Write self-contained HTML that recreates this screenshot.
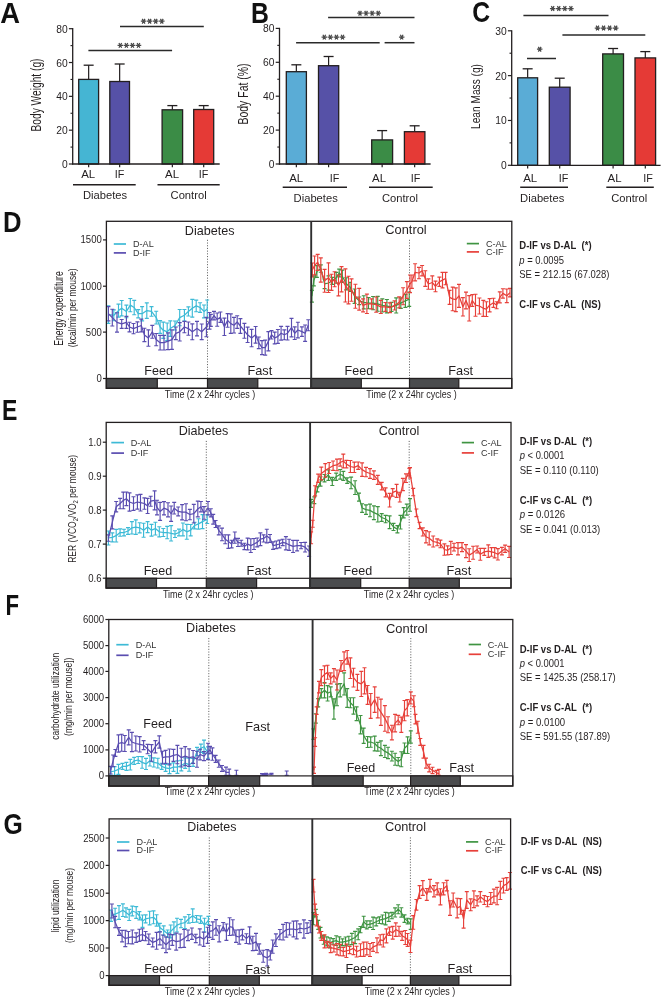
<!DOCTYPE html>
<html><head><meta charset="utf-8"><style>
html,body{margin:0;padding:0;background:#fff;}
svg{display:block;will-change:transform;}
text{font-family:"Liberation Sans", sans-serif;}
</style></head><body>
<svg width="663" height="999" viewBox="0 0 663 999">
<rect width="663" height="999" fill="#fff"/>
<text transform="translate(0.3,22.700000000000003) scale(0.95,1)" font-size="28.8" font-weight="bold" fill="#111">A</text>
<text transform="translate(251.0,23.1) scale(0.86,1)" font-size="28.8" font-weight="bold" fill="#111">B</text>
<text transform="translate(472.2,22.200000000000003) scale(0.86,1)" font-size="28.8" font-weight="bold" fill="#111">C</text>
<text transform="translate(3.1,231.6) scale(0.89,1)" font-size="28.8" font-weight="bold" fill="#111">D</text>
<text transform="translate(2.0,420.3) scale(0.8,1)" font-size="28.8" font-weight="bold" fill="#111">E</text>
<text transform="translate(5.6,614.6) scale(0.77,1)" font-size="28.8" font-weight="bold" fill="#111">F</text>
<text transform="translate(3.4,833.6) scale(0.86,1)" font-size="28.8" font-weight="bold" fill="#111">G</text>
<line x1="88.65" y1="65.20" x2="88.65" y2="79.40" stroke="#231f20" stroke-width="1.2" />
<line x1="83.65" y1="65.20" x2="93.65" y2="65.20" stroke="#231f20" stroke-width="1.3" />
<rect x="78.70" y="79.40" width="19.90" height="84.60" fill="#45b5d3" stroke="#231f20" stroke-width="1.3"/>
<line x1="88.65" y1="164.00" x2="88.65" y2="167.20" stroke="#231f20" stroke-width="1.2" />
<text x="88.2" y="178.3" font-size="10.9" fill="#231f20" text-anchor="middle" textLength="14.0" lengthAdjust="spacingAndGlyphs">AL</text>
<line x1="119.65" y1="64.00" x2="119.65" y2="81.50" stroke="#231f20" stroke-width="1.2" />
<line x1="114.65" y1="64.00" x2="124.65" y2="64.00" stroke="#231f20" stroke-width="1.3" />
<rect x="109.80" y="81.50" width="19.70" height="82.50" fill="#5651a7" stroke="#231f20" stroke-width="1.3"/>
<line x1="119.65" y1="164.00" x2="119.65" y2="167.20" stroke="#231f20" stroke-width="1.2" />
<text x="119.6" y="178.3" font-size="10.9" fill="#231f20" text-anchor="middle" textLength="9.6" lengthAdjust="spacingAndGlyphs">IF</text>
<line x1="172.35" y1="105.60" x2="172.35" y2="109.80" stroke="#231f20" stroke-width="1.2" />
<line x1="167.35" y1="105.60" x2="177.35" y2="105.60" stroke="#231f20" stroke-width="1.3" />
<rect x="162.10" y="109.80" width="20.50" height="54.20" fill="#3b8c46" stroke="#231f20" stroke-width="1.3"/>
<line x1="172.35" y1="164.00" x2="172.35" y2="167.20" stroke="#231f20" stroke-width="1.2" />
<text x="172.1" y="178.3" font-size="10.9" fill="#231f20" text-anchor="middle" textLength="14.0" lengthAdjust="spacingAndGlyphs">AL</text>
<line x1="203.70" y1="105.60" x2="203.70" y2="109.50" stroke="#231f20" stroke-width="1.2" />
<line x1="198.70" y1="105.60" x2="208.70" y2="105.60" stroke="#231f20" stroke-width="1.3" />
<rect x="193.70" y="109.50" width="20.00" height="54.50" fill="#e53a36" stroke="#231f20" stroke-width="1.3"/>
<line x1="203.70" y1="164.00" x2="203.70" y2="167.20" stroke="#231f20" stroke-width="1.2" />
<text x="203.5" y="178.3" font-size="10.9" fill="#231f20" text-anchor="middle" textLength="9.6" lengthAdjust="spacingAndGlyphs">IF</text>
<line x1="72.70" y1="28.10" x2="72.70" y2="164.60" stroke="#231f20" stroke-width="1.3" />
<line x1="72.10" y1="164.00" x2="219.70" y2="164.00" stroke="#231f20" stroke-width="1.3" />
<line x1="68.90" y1="164.00" x2="72.70" y2="164.00" stroke="#231f20" stroke-width="1.2" />
<text transform="translate(67.70,168.00) scale(0.92,1)" font-size="11.2" fill="#231f20" text-anchor="end">0</text>
<line x1="68.90" y1="130.18" x2="72.70" y2="130.18" stroke="#231f20" stroke-width="1.2" />
<text transform="translate(67.70,134.18) scale(0.92,1)" font-size="11.2" fill="#231f20" text-anchor="end">20</text>
<line x1="68.90" y1="96.35" x2="72.70" y2="96.35" stroke="#231f20" stroke-width="1.2" />
<text transform="translate(67.70,100.35) scale(0.92,1)" font-size="11.2" fill="#231f20" text-anchor="end">40</text>
<line x1="68.90" y1="62.52" x2="72.70" y2="62.52" stroke="#231f20" stroke-width="1.2" />
<text transform="translate(67.70,66.52) scale(0.92,1)" font-size="11.2" fill="#231f20" text-anchor="end">60</text>
<line x1="68.90" y1="28.70" x2="72.70" y2="28.70" stroke="#231f20" stroke-width="1.2" />
<text transform="translate(67.70,32.70) scale(0.92,1)" font-size="11.2" fill="#231f20" text-anchor="end">80</text>
<line x1="70.50" y1="147.09" x2="72.70" y2="147.09" stroke="#231f20" stroke-width="1.1" />
<line x1="70.50" y1="113.26" x2="72.70" y2="113.26" stroke="#231f20" stroke-width="1.1" />
<line x1="70.50" y1="79.44" x2="72.70" y2="79.44" stroke="#231f20" stroke-width="1.1" />
<line x1="70.50" y1="45.61" x2="72.70" y2="45.61" stroke="#231f20" stroke-width="1.1" />
<text transform="translate(41.1,95.0) rotate(-90)" font-size="14" fill="#231f20" text-anchor="middle" textLength="73" lengthAdjust="spacingAndGlyphs">Body Weight (g)</text>
<line x1="73.00" y1="184.80" x2="135.70" y2="184.80" stroke="#231f20" stroke-width="1.4" />
<line x1="157.50" y1="184.80" x2="219.70" y2="184.80" stroke="#231f20" stroke-width="1.4" />
<text x="105.0" y="198.7" font-size="11.2" fill="#231f20" text-anchor="middle">Diabetes</text>
<text x="188.6" y="198.7" font-size="11.2" fill="#231f20" text-anchor="middle">Control</text>
<line x1="88.40" y1="50.40" x2="172.10" y2="50.40" stroke="#2a2a2a" stroke-width="1.5" />
<path d="M117.55,45.40L123.05,45.40M118.92,43.02L121.67,47.78M121.67,43.02L118.92,47.78M123.62,45.40L129.12,45.40M124.99,43.02L127.74,47.78M127.74,43.02L124.99,47.78M129.69,45.40L135.19,45.40M131.06,43.02L133.81,47.78M133.81,43.02L131.06,47.78M135.75,45.40L141.25,45.40M137.13,43.02L139.88,47.78M139.88,43.02L137.13,47.78" stroke="#4a4a4a" stroke-width="1.25" fill="none"/>
<line x1="120.00" y1="26.40" x2="203.80" y2="26.40" stroke="#2a2a2a" stroke-width="1.5" />
<path d="M140.84,21.20L146.34,21.20M142.22,18.82L144.97,23.58M144.97,18.82L142.22,23.58M146.91,21.20L152.41,21.20M148.29,18.82L151.04,23.58M151.04,18.82L148.29,23.58M152.99,21.20L158.49,21.20M154.36,18.82L157.11,23.58M157.11,18.82L154.36,23.58M159.06,21.20L164.56,21.20M160.43,18.82L163.18,23.58M163.18,18.82L160.43,23.58" stroke="#4a4a4a" stroke-width="1.25" fill="none"/>
<line x1="296.35" y1="64.80" x2="296.35" y2="71.70" stroke="#231f20" stroke-width="1.2" />
<line x1="291.35" y1="64.80" x2="301.35" y2="64.80" stroke="#231f20" stroke-width="1.3" />
<rect x="286.30" y="71.70" width="20.10" height="92.30" fill="#5aacd6" stroke="#231f20" stroke-width="1.3"/>
<line x1="296.35" y1="164.00" x2="296.35" y2="167.20" stroke="#231f20" stroke-width="1.2" />
<text x="296.2" y="181.8" font-size="10.9" fill="#231f20" text-anchor="middle" textLength="14.0" lengthAdjust="spacingAndGlyphs">AL</text>
<line x1="328.60" y1="56.50" x2="328.60" y2="65.70" stroke="#231f20" stroke-width="1.2" />
<line x1="323.60" y1="56.50" x2="333.60" y2="56.50" stroke="#231f20" stroke-width="1.3" />
<rect x="318.50" y="65.70" width="20.20" height="98.30" fill="#5651a7" stroke="#231f20" stroke-width="1.3"/>
<line x1="328.60" y1="164.00" x2="328.60" y2="167.20" stroke="#231f20" stroke-width="1.2" />
<text x="334.5" y="181.8" font-size="10.9" fill="#231f20" text-anchor="middle" textLength="9.6" lengthAdjust="spacingAndGlyphs">IF</text>
<line x1="382.15" y1="130.60" x2="382.15" y2="139.90" stroke="#231f20" stroke-width="1.2" />
<line x1="377.15" y1="130.60" x2="387.15" y2="130.60" stroke="#231f20" stroke-width="1.3" />
<rect x="371.70" y="139.90" width="20.90" height="24.10" fill="#3b8c46" stroke="#231f20" stroke-width="1.3"/>
<line x1="382.15" y1="164.00" x2="382.15" y2="167.20" stroke="#231f20" stroke-width="1.2" />
<text x="379.0" y="181.8" font-size="10.9" fill="#231f20" text-anchor="middle" textLength="14.0" lengthAdjust="spacingAndGlyphs">AL</text>
<line x1="414.65" y1="125.80" x2="414.65" y2="131.70" stroke="#231f20" stroke-width="1.2" />
<line x1="409.65" y1="125.80" x2="419.65" y2="125.80" stroke="#231f20" stroke-width="1.3" />
<rect x="404.40" y="131.70" width="20.50" height="32.30" fill="#e53a36" stroke="#231f20" stroke-width="1.3"/>
<line x1="414.65" y1="164.00" x2="414.65" y2="167.20" stroke="#231f20" stroke-width="1.2" />
<text x="415.6" y="181.8" font-size="10.9" fill="#231f20" text-anchor="middle" textLength="9.6" lengthAdjust="spacingAndGlyphs">IF</text>
<line x1="279.50" y1="27.80" x2="279.50" y2="164.60" stroke="#231f20" stroke-width="1.3" />
<line x1="278.90" y1="164.00" x2="430.60" y2="164.00" stroke="#231f20" stroke-width="1.3" />
<line x1="275.70" y1="164.00" x2="279.50" y2="164.00" stroke="#231f20" stroke-width="1.2" />
<text transform="translate(274.50,168.00) scale(0.92,1)" font-size="11.2" fill="#231f20" text-anchor="end">0</text>
<line x1="275.70" y1="130.10" x2="279.50" y2="130.10" stroke="#231f20" stroke-width="1.2" />
<text transform="translate(274.50,134.10) scale(0.92,1)" font-size="11.2" fill="#231f20" text-anchor="end">20</text>
<line x1="275.70" y1="96.20" x2="279.50" y2="96.20" stroke="#231f20" stroke-width="1.2" />
<text transform="translate(274.50,100.20) scale(0.92,1)" font-size="11.2" fill="#231f20" text-anchor="end">40</text>
<line x1="275.70" y1="62.30" x2="279.50" y2="62.30" stroke="#231f20" stroke-width="1.2" />
<text transform="translate(274.50,66.30) scale(0.92,1)" font-size="11.2" fill="#231f20" text-anchor="end">60</text>
<line x1="275.70" y1="28.40" x2="279.50" y2="28.40" stroke="#231f20" stroke-width="1.2" />
<text transform="translate(274.50,32.40) scale(0.92,1)" font-size="11.2" fill="#231f20" text-anchor="end">80</text>
<line x1="277.30" y1="147.05" x2="279.50" y2="147.05" stroke="#231f20" stroke-width="1.1" />
<line x1="277.30" y1="113.15" x2="279.50" y2="113.15" stroke="#231f20" stroke-width="1.1" />
<line x1="277.30" y1="79.25" x2="279.50" y2="79.25" stroke="#231f20" stroke-width="1.1" />
<line x1="277.30" y1="45.35" x2="279.50" y2="45.35" stroke="#231f20" stroke-width="1.1" />
<text transform="translate(248.0,94.0) rotate(-90)" font-size="14" fill="#231f20" text-anchor="middle" textLength="61.2" lengthAdjust="spacingAndGlyphs">Body Fat (%)</text>
<line x1="282.70" y1="187.30" x2="347.00" y2="187.30" stroke="#231f20" stroke-width="1.4" />
<line x1="369.00" y1="187.30" x2="432.70" y2="187.30" stroke="#231f20" stroke-width="1.4" />
<text x="315.7" y="201.5" font-size="11.2" fill="#231f20" text-anchor="middle">Diabetes</text>
<text x="400.0" y="201.5" font-size="11.2" fill="#231f20" text-anchor="middle">Control</text>
<line x1="296.10" y1="42.70" x2="379.70" y2="42.70" stroke="#2a2a2a" stroke-width="1.5" />
<path d="M321.54,37.10L327.04,37.10M322.92,34.72L325.67,39.48M325.67,34.72L322.92,39.48M327.61,37.10L333.11,37.10M328.99,34.72L331.74,39.48M331.74,34.72L328.99,39.48M333.68,37.10L339.18,37.10M335.06,34.72L337.81,39.48M337.81,34.72L335.06,39.48M339.75,37.10L345.25,37.10M341.13,34.72L343.88,39.48M343.88,34.72L341.13,39.48" stroke="#4a4a4a" stroke-width="1.25" fill="none"/>
<line x1="384.60" y1="42.70" x2="414.50" y2="42.70" stroke="#2a2a2a" stroke-width="1.5" />
<path d="M398.95,37.10L404.45,37.10M400.32,34.72L403.07,39.48M403.07,34.72L400.32,39.48" stroke="#4a4a4a" stroke-width="1.25" fill="none"/>
<line x1="328.10" y1="17.60" x2="414.50" y2="17.60" stroke="#2a2a2a" stroke-width="1.5" />
<path d="M357.25,13.20L362.75,13.20M358.62,10.82L361.37,15.58M361.37,10.82L358.62,15.58M363.31,13.20L368.81,13.20M364.69,10.82L367.44,15.58M367.44,10.82L364.69,15.58M369.38,13.20L374.88,13.20M370.76,10.82L373.51,15.58M373.51,10.82L370.76,15.58M375.45,13.20L380.95,13.20M376.83,10.82L379.58,15.58M379.58,10.82L376.83,15.58" stroke="#4a4a4a" stroke-width="1.25" fill="none"/>
<line x1="527.65" y1="68.80" x2="527.65" y2="77.80" stroke="#231f20" stroke-width="1.2" />
<line x1="522.65" y1="68.80" x2="532.65" y2="68.80" stroke="#231f20" stroke-width="1.3" />
<rect x="517.70" y="77.80" width="19.90" height="87.50" fill="#5aacd6" stroke="#231f20" stroke-width="1.3"/>
<line x1="527.65" y1="165.30" x2="527.65" y2="168.50" stroke="#231f20" stroke-width="1.2" />
<text x="530.2" y="182.0" font-size="10.9" fill="#231f20" text-anchor="middle" textLength="14.0" lengthAdjust="spacingAndGlyphs">AL</text>
<line x1="559.70" y1="78.20" x2="559.70" y2="87.20" stroke="#231f20" stroke-width="1.2" />
<line x1="554.70" y1="78.20" x2="564.70" y2="78.20" stroke="#231f20" stroke-width="1.3" />
<rect x="549.30" y="87.20" width="20.80" height="78.10" fill="#5651a7" stroke="#231f20" stroke-width="1.3"/>
<line x1="559.70" y1="165.30" x2="559.70" y2="168.50" stroke="#231f20" stroke-width="1.2" />
<text x="563.6" y="182.0" font-size="10.9" fill="#231f20" text-anchor="middle" textLength="9.6" lengthAdjust="spacingAndGlyphs">IF</text>
<line x1="613.10" y1="48.50" x2="613.10" y2="53.90" stroke="#231f20" stroke-width="1.2" />
<line x1="608.10" y1="48.50" x2="618.10" y2="48.50" stroke="#231f20" stroke-width="1.3" />
<rect x="602.70" y="53.90" width="20.80" height="111.40" fill="#3b8c46" stroke="#231f20" stroke-width="1.3"/>
<line x1="613.10" y1="165.30" x2="613.10" y2="168.50" stroke="#231f20" stroke-width="1.2" />
<text x="614.5" y="182.0" font-size="10.9" fill="#231f20" text-anchor="middle" textLength="14.0" lengthAdjust="spacingAndGlyphs">AL</text>
<line x1="645.30" y1="51.60" x2="645.30" y2="57.90" stroke="#231f20" stroke-width="1.2" />
<line x1="640.30" y1="51.60" x2="650.30" y2="51.60" stroke="#231f20" stroke-width="1.3" />
<rect x="635.00" y="57.90" width="20.60" height="107.40" fill="#e53a36" stroke="#231f20" stroke-width="1.3"/>
<line x1="645.30" y1="165.30" x2="645.30" y2="168.50" stroke="#231f20" stroke-width="1.2" />
<text x="648.0" y="182.0" font-size="10.9" fill="#231f20" text-anchor="middle" textLength="9.6" lengthAdjust="spacingAndGlyphs">IF</text>
<line x1="511.70" y1="30.20" x2="511.70" y2="165.90" stroke="#231f20" stroke-width="1.3" />
<line x1="511.10" y1="165.30" x2="660.60" y2="165.30" stroke="#231f20" stroke-width="1.3" />
<line x1="507.90" y1="165.30" x2="511.70" y2="165.30" stroke="#231f20" stroke-width="1.2" />
<text transform="translate(506.70,169.30) scale(0.92,1)" font-size="11.2" fill="#231f20" text-anchor="end">0</text>
<line x1="507.90" y1="120.47" x2="511.70" y2="120.47" stroke="#231f20" stroke-width="1.2" />
<text transform="translate(506.70,124.47) scale(0.92,1)" font-size="11.2" fill="#231f20" text-anchor="end">10</text>
<line x1="507.90" y1="75.63" x2="511.70" y2="75.63" stroke="#231f20" stroke-width="1.2" />
<text transform="translate(506.70,79.63) scale(0.92,1)" font-size="11.2" fill="#231f20" text-anchor="end">20</text>
<line x1="507.90" y1="30.80" x2="511.70" y2="30.80" stroke="#231f20" stroke-width="1.2" />
<text transform="translate(506.70,34.80) scale(0.92,1)" font-size="11.2" fill="#231f20" text-anchor="end">30</text>
<line x1="509.50" y1="142.88" x2="511.70" y2="142.88" stroke="#231f20" stroke-width="1.1" />
<line x1="509.50" y1="98.05" x2="511.70" y2="98.05" stroke="#231f20" stroke-width="1.1" />
<line x1="509.50" y1="53.22" x2="511.70" y2="53.22" stroke="#231f20" stroke-width="1.1" />
<text transform="translate(479.6,96.5) rotate(-90)" font-size="12.8" fill="#231f20" text-anchor="middle" textLength="64.9" lengthAdjust="spacingAndGlyphs">Lean Mass (g)</text>
<line x1="520.20" y1="187.30" x2="568.00" y2="187.30" stroke="#231f20" stroke-width="1.4" />
<line x1="606.30" y1="187.30" x2="653.80" y2="187.30" stroke="#231f20" stroke-width="1.4" />
<text x="542.2" y="202.3" font-size="11.2" fill="#231f20" text-anchor="middle">Diabetes</text>
<text x="629.2" y="202.3" font-size="11.2" fill="#231f20" text-anchor="middle">Control</text>
<line x1="527.00" y1="58.50" x2="556.00" y2="58.50" stroke="#2a2a2a" stroke-width="1.5" />
<path d="M536.95,49.20L542.45,49.20M538.33,46.82L541.08,51.58M541.08,46.82L538.33,51.58" stroke="#4a4a4a" stroke-width="1.25" fill="none"/>
<line x1="523.40" y1="15.40" x2="608.50" y2="15.40" stroke="#2a2a2a" stroke-width="1.5" />
<path d="M549.94,8.50L555.44,8.50M551.32,6.12L554.07,10.88M554.07,6.12L551.32,10.88M556.01,8.50L561.51,8.50M557.39,6.12L560.14,10.88M560.14,6.12L557.39,10.88M562.08,8.50L567.58,8.50M563.46,6.12L566.21,10.88M566.21,6.12L563.46,10.88M568.15,8.50L573.65,8.50M569.53,6.12L572.28,10.88M572.28,6.12L569.53,10.88" stroke="#4a4a4a" stroke-width="1.25" fill="none"/>
<line x1="562.40" y1="34.90" x2="645.30" y2="34.90" stroke="#2a2a2a" stroke-width="1.5" />
<path d="M594.75,28.00L600.25,28.00M596.12,25.62L598.87,30.38M598.87,25.62L596.12,30.38M600.82,28.00L606.32,28.00M602.19,25.62L604.94,30.38M604.94,25.62L602.19,30.38M606.88,28.00L612.38,28.00M608.26,25.62L611.01,30.38M611.01,25.62L608.26,30.38M612.96,28.00L618.46,28.00M614.33,25.62L617.08,30.38M617.08,25.62L614.33,30.38" stroke="#4a4a4a" stroke-width="1.25" fill="none"/>
<line x1="207.5" y1="239.8" x2="207.5" y2="378.5" stroke="#555" stroke-width="0.9" stroke-dasharray="1.1,1.6"/>
<line x1="409.5" y1="239.8" x2="409.5" y2="378.5" stroke="#555" stroke-width="0.9" stroke-dasharray="1.1,1.6"/>
<path d="M108.4,314.5 L113.8,315.3 L118.5,310.6 L121.7,308.2 L126.4,311.4 L130.3,305.1 L134.2,307.5 L138.2,313.7 L142.1,313.7 L146.8,310.6 L151.5,311.4 L156.2,317.6 L160.1,327.0 L163.3,330.2 L167.2,331.8 L170.3,328.6 L175.0,325.5 L179.7,317.6 L184.4,315.3 L188.4,311.4 L192.3,308.2 L196.2,305.9 L200.1,307.5 L204.0,311.4 L207.2,309.0" fill="none" stroke="#3dbad6" stroke-width="1.25" stroke-linejoin="round"/>
<path d="M108.4,305.7V323.3M106.4,305.7h4M106.4,323.3h4M113.8,309.9V320.7M111.8,309.9h4M111.8,320.7h4M118.5,304.1V317.1M116.5,304.1h4M116.5,317.1h4M121.7,300.5V315.9M119.7,300.5h4M119.7,315.9h4M126.4,305.1V317.7M124.4,305.1h4M124.4,317.7h4M130.3,298.5V311.7M128.3,298.5h4M128.3,311.7h4M134.2,300.3V314.7M132.2,300.3h4M132.2,314.7h4M138.2,309.6V317.8M136.2,309.6h4M136.2,317.8h4M142.1,306.6V320.8M140.1,306.6h4M140.1,320.8h4M146.8,302.8V318.4M144.8,302.8h4M144.8,318.4h4M151.5,306.6V316.2M149.5,306.6h4M149.5,316.2h4M156.2,311.2V324.0M154.2,311.2h4M154.2,324.0h4M160.1,320.6V333.4M158.1,320.6h4M158.1,333.4h4M163.3,322.1V338.3M161.3,322.1h4M161.3,338.3h4M167.2,323.0V340.6M165.2,323.0h4M165.2,340.6h4M170.3,320.8V336.4M168.3,320.8h4M168.3,336.4h4M175.0,321.0V330.0M173.0,321.0h4M173.0,330.0h4M179.7,309.5V325.7M177.7,309.5h4M177.7,325.7h4M184.4,309.5V321.1M182.4,309.5h4M182.4,321.1h4M188.4,306.8V316.0M186.4,306.8h4M186.4,316.0h4M192.3,299.3V317.1M190.3,299.3h4M190.3,317.1h4M196.2,300.1V311.7M194.2,300.1h4M194.2,311.7h4M200.1,302.7V312.3M198.1,302.7h4M198.1,312.3h4M204.0,305.0V317.8M202.0,305.0h4M202.0,317.8h4M207.2,300.0V318.0M205.2,300.0h4M205.2,318.0h4" fill="none" stroke="#3dbad6" stroke-width="1.15"/>
<path d="M108.4,313.7 L112.3,317.6 L117.0,322.4 L121.7,323.9 L126.4,322.4 L129.5,327.0 L133.5,328.6 L137.4,327.0 L141.3,325.5 L144.4,334.9 L148.4,338.0 L152.3,331.8 L156.2,339.6 L160.1,342.7 L164.0,342.7 L168.0,341.2 L171.9,339.6 L175.8,333.3 L179.7,331.8 L184.4,327.0 L188.4,328.6 L192.3,331.8 L197.0,328.6 L201.7,331.8 L206.4,327.0 L209.5,320.8 L210.8,320.4 L214.0,315.6 L217.2,319.6 L220.4,317.2 L224.4,326.8 L227.6,320.4 L230.8,323.6 L234.0,325.2 L237.2,322.0 L240.4,326.0 L244.4,330.8 L247.6,334.8 L251.6,338.0 L255.6,334.8 L258.8,342.8 L262.0,347.6 L265.2,347.6 L268.4,341.2 L271.5,334.8 L274.7,338.0 L277.9,336.4 L281.1,333.2 L284.3,334.8 L287.5,333.2 L291.5,327.6 L294.7,333.2 L297.9,330.0 L301.9,331.6 L305.1,333.2 L308.3,325.2" fill="none" stroke="#5a4db0" stroke-width="1.25" stroke-linejoin="round"/>
<path d="M108.4,306.6V320.8M106.4,306.6h4M106.4,320.8h4M112.3,309.2V326.0M110.3,309.2h4M110.3,326.0h4M117.0,312.7V332.1M115.0,312.7h4M115.0,332.1h4M121.7,319.5V328.3M119.7,319.5h4M119.7,328.3h4M126.4,316.4V328.4M124.4,316.4h4M124.4,328.4h4M129.5,322.2V331.8M127.5,322.2h4M127.5,331.8h4M133.5,323.5V333.7M131.5,323.5h4M131.5,333.7h4M137.4,321.8V332.2M135.4,321.8h4M135.4,332.2h4M141.3,319.1V331.9M139.3,319.1h4M139.3,331.9h4M144.4,328.2V341.6M142.4,328.2h4M142.4,341.6h4M148.4,329.8V346.2M146.4,329.8h4M146.4,346.2h4M152.3,325.4V338.2M150.3,325.4h4M150.3,338.2h4M156.2,333.5V345.7M154.2,333.5h4M154.2,345.7h4M160.1,335.4V350.0M158.1,335.4h4M158.1,350.0h4M164.0,335.4V350.0M162.0,335.4h4M162.0,350.0h4M168.0,332.8V349.6M166.0,332.8h4M166.0,349.6h4M171.9,329.9V349.3M169.9,329.9h4M169.9,349.3h4M175.8,327.0V339.6M173.8,327.0h4M173.8,339.6h4M179.7,322.6V341.0M177.7,322.6h4M177.7,341.0h4M184.4,321.3V332.7M182.4,321.3h4M182.4,332.7h4M188.4,322.0V335.2M186.4,322.0h4M186.4,335.2h4M192.3,323.9V339.7M190.3,323.9h4M190.3,339.7h4M197.0,321.3V335.9M195.0,321.3h4M195.0,335.9h4M201.7,324.0V339.6M199.7,324.0h4M199.7,339.6h4M206.4,317.3V336.7M204.4,317.3h4M204.4,336.7h4M209.5,312.5V329.1M207.5,312.5h4M207.5,329.1h4M210.8,314.4V326.4M208.8,314.4h4M208.8,326.4h4M214.0,311.3V319.9M212.0,311.3h4M212.0,319.9h4M217.2,313.0V326.2M215.2,313.0h4M215.2,326.2h4M220.4,312.0V322.4M218.4,312.0h4M218.4,322.4h4M224.4,318.1V335.5M222.4,318.1h4M222.4,335.5h4M227.6,313.6V327.2M225.6,313.6h4M225.6,327.2h4M230.8,313.9V333.3M228.8,313.9h4M228.8,333.3h4M234.0,317.4V333.0M232.0,317.4h4M232.0,333.0h4M237.2,315.7V328.3M235.2,315.7h4M235.2,328.3h4M240.4,318.6V333.4M238.4,318.6h4M238.4,333.4h4M244.4,323.4V338.2M242.4,323.4h4M242.4,338.2h4M247.6,327.1V342.5M245.6,327.1h4M245.6,342.5h4M251.6,329.3V346.7M249.6,329.3h4M249.6,346.7h4M255.6,326.5V343.1M253.6,326.5h4M253.6,343.1h4M258.8,337.0V348.6M256.8,337.0h4M256.8,348.6h4M262.0,340.6V354.6M260.0,340.6h4M260.0,354.6h4M265.2,340.1V355.1M263.2,340.1h4M263.2,355.1h4M268.4,331.6V350.8M266.4,331.6h4M266.4,350.8h4M271.5,330.6V339.0M269.5,330.6h4M269.5,339.0h4M274.7,332.1V343.9M272.7,332.1h4M272.7,343.9h4M277.9,329.5V343.3M275.9,329.5h4M275.9,343.3h4M281.1,326.3V340.1M279.1,326.3h4M279.1,340.1h4M284.3,329.9V339.7M282.3,329.9h4M282.3,339.7h4M287.5,326.4V340.0M285.5,326.4h4M285.5,340.0h4M291.5,318.4V336.8M289.5,318.4h4M289.5,336.8h4M294.7,326.9V339.5M292.7,326.9h4M292.7,339.5h4M297.9,322.2V337.8M295.9,322.2h4M295.9,337.8h4M301.9,326.9V336.3M299.9,326.9h4M299.9,336.3h4M305.1,325.0V341.4M303.1,325.0h4M303.1,341.4h4M308.3,319.7V330.7M306.3,319.7h4M306.3,330.7h4" fill="none" stroke="#5a4db0" stroke-width="1.15"/>
<path d="M311.9,296.2 L313.8,280.8 L316.9,271.5 L320.8,268.5 L324.6,283.8 L328.5,283.0 L332.3,280.8 L336.2,277.7 L339.2,273.0 L342.3,276.2 L346.2,283.8 L350.0,286.9 L354.6,296.2 L359.2,300.8 L363.8,302.3 L368.5,303.1 L373.1,303.1 L377.7,303.8 L382.3,305.4 L386.9,306.2 L391.5,306.9 L396.2,305.4 L400.8,303.1 L405.4,300.8 L409.2,299.2" fill="none" stroke="#3f9442" stroke-width="1.25" stroke-linejoin="round"/>
<path d="M311.9,290.3V302.1M309.9,290.3h4M309.9,302.1h4M313.8,275.8V285.8M311.8,275.8h4M311.8,285.8h4M316.9,265.6V277.4M314.9,265.6h4M314.9,277.4h4M320.8,264.8V272.2M318.8,264.8h4M318.8,272.2h4M324.6,279.0V288.6M322.6,279.0h4M322.6,288.6h4M328.5,275.9V290.1M326.5,275.9h4M326.5,290.1h4M332.3,277.3V284.3M330.3,277.3h4M330.3,284.3h4M336.2,272.3V283.1M334.2,272.3h4M334.2,283.1h4M339.2,269.1V276.9M337.2,269.1h4M337.2,276.9h4M342.3,270.1V282.3M340.3,270.1h4M340.3,282.3h4M346.2,277.7V289.9M344.2,277.7h4M344.2,289.9h4M350.0,282.4V291.4M348.0,282.4h4M348.0,291.4h4M354.6,289.0V303.4M352.6,289.0h4M352.6,303.4h4M359.2,297.0V304.6M357.2,297.0h4M357.2,304.6h4M363.8,295.7V308.9M361.8,295.7h4M361.8,308.9h4M368.5,297.5V308.7M366.5,297.5h4M366.5,308.7h4M373.1,296.5V309.7M371.1,296.5h4M371.1,309.7h4M377.7,296.4V311.2M375.7,296.4h4M375.7,311.2h4M382.3,298.8V312.0M380.3,298.8h4M380.3,312.0h4M386.9,299.5V312.9M384.9,299.5h4M384.9,312.9h4M391.5,302.3V311.5M389.5,302.3h4M389.5,311.5h4M396.2,297.8V313.0M394.2,297.8h4M394.2,313.0h4M400.8,297.9V308.3M398.8,297.9h4M398.8,308.3h4M405.4,294.3V307.3M403.4,294.3h4M403.4,307.3h4M409.2,292.1V306.3M407.2,292.1h4M407.2,306.3h4" fill="none" stroke="#3f9442" stroke-width="1.15"/>
<path d="M312.3,270.0 L314.6,265.4 L317.7,262.3 L320.8,270.0 L324.6,280.8 L328.5,277.7 L331.5,282.3 L334.6,279.2 L338.5,285.4 L341.5,279.2 L345.4,285.4 L348.5,290.0 L351.5,290.0 L355.4,296.2 L359.2,299.2 L363.1,305.4 L366.9,303.8 L371.5,303.8 L376.2,304.6 L380.8,306.9 L385.4,306.9 L390.0,307.7 L394.6,305.4 L399.2,302.3 L403.1,296.2 L406.9,290.0 L410.0,283.8 L411.9,281.7 L415.1,272.3 L419.0,273.0 L422.1,270.7 L425.3,278.5 L428.4,284.0 L432.3,282.5 L435.5,286.4 L439.4,281.7 L442.5,280.1 L445.6,278.5 L449.6,297.4 L452.7,298.9 L455.8,299.7 L459.0,295.8 L462.9,306.8 L466.0,300.5 L469.2,308.3 L472.3,300.5 L475.5,305.2 L479.4,306.0 L483.3,308.3 L486.4,309.1 L489.6,305.2 L493.5,302.8 L496.6,305.2 L499.8,297.4 L502.9,293.4 L506.8,295.8 L510.0,292.6" fill="none" stroke="#e7403a" stroke-width="1.25" stroke-linejoin="round"/>
<path d="M312.3,263.0V277.0M310.3,263.0h4M310.3,277.0h4M314.6,256.0V274.8M312.6,256.0h4M312.6,274.8h4M317.7,254.3V270.3M315.7,254.3h4M315.7,270.3h4M320.8,257.9V282.1M318.8,257.9h4M318.8,282.1h4M324.6,269.4V292.2M322.6,269.4h4M322.6,292.2h4M328.5,262.9V292.5M326.5,262.9h4M326.5,292.5h4M331.5,274.2V290.4M329.5,274.2h4M329.5,290.4h4M334.6,271.7V286.7M332.6,271.7h4M332.6,286.7h4M338.5,275.0V295.8M336.5,275.0h4M336.5,295.8h4M341.5,266.6V291.8M339.5,266.6h4M339.5,291.8h4M345.4,268.8V302.0M343.4,268.8h4M343.4,302.0h4M348.5,276.2V303.8M346.5,276.2h4M346.5,303.8h4M351.5,278.8V301.2M349.5,278.8h4M349.5,301.2h4M355.4,284.2V308.2M353.4,284.2h4M353.4,308.2h4M359.2,288.3V310.1M357.2,288.3h4M357.2,310.1h4M363.1,298.9V311.9M361.1,298.9h4M361.1,311.9h4M366.9,294.1V313.5M364.9,294.1h4M364.9,313.5h4M371.5,298.8V308.8M369.5,298.8h4M369.5,308.8h4M376.2,297.0V312.2M374.2,297.0h4M374.2,312.2h4M380.8,300.3V313.5M378.8,300.3h4M378.8,313.5h4M385.4,302.5V311.3M383.4,302.5h4M383.4,311.3h4M390.0,302.8V312.6M388.0,302.8h4M388.0,312.6h4M394.6,300.8V310.0M392.6,300.8h4M392.6,310.0h4M399.2,296.8V307.8M397.2,296.8h4M397.2,307.8h4M403.1,287.7V304.7M401.1,287.7h4M401.1,304.7h4M406.9,281.6V298.4M404.9,281.6h4M404.9,298.4h4M410.0,275.0V292.6M408.0,275.0h4M408.0,292.6h4M411.9,275.0V288.4M409.9,275.0h4M409.9,288.4h4M415.1,263.7V280.9M413.1,263.7h4M413.1,280.9h4M419.0,267.3V278.7M417.0,267.3h4M417.0,278.7h4M422.1,265.5V275.9M420.1,265.5h4M420.1,275.9h4M425.3,270.7V286.3M423.3,270.7h4M423.3,286.3h4M428.4,278.8V289.2M426.4,278.8h4M426.4,289.2h4M432.3,275.8V289.2M430.3,275.8h4M430.3,289.2h4M435.5,281.1V291.7M433.5,281.1h4M433.5,291.7h4M439.4,277.1V286.3M437.4,277.1h4M437.4,286.3h4M442.5,272.3V287.9M440.5,272.3h4M440.5,287.9h4M445.6,272.3V284.7M443.6,272.3h4M443.6,284.7h4M449.6,290.4V304.4M447.6,290.4h4M447.6,304.4h4M452.7,287.1V310.7M450.7,287.1h4M450.7,310.7h4M455.8,287.8V311.6M453.8,287.8h4M453.8,311.6h4M459.0,284.3V307.3M457.0,284.3h4M457.0,307.3h4M462.9,297.6V316.0M460.9,297.6h4M460.9,316.0h4M466.0,292.1V308.9M464.0,292.1h4M464.0,308.9h4M469.2,295.6V321.0M467.2,295.6h4M467.2,321.0h4M472.3,294.6V306.4M470.3,294.6h4M470.3,306.4h4M475.5,294.2V316.2M473.5,294.2h4M473.5,316.2h4M479.4,298.0V314.0M477.4,298.0h4M477.4,314.0h4M483.3,300.3V316.3M481.3,300.3h4M481.3,316.3h4M486.4,301.7V316.5M484.4,301.7h4M484.4,316.5h4M489.6,298.6V311.8M487.6,298.6h4M487.6,311.8h4M493.5,298.2V307.4M491.5,298.2h4M491.5,307.4h4M496.6,301.7V308.7M494.6,301.7h4M494.6,308.7h4M499.8,291.9V302.9M497.8,291.9h4M497.8,302.9h4M502.9,288.7V298.1M500.9,288.7h4M500.9,298.1h4M506.8,289.0V302.6M504.8,289.0h4M504.8,302.6h4M510.0,288.3V296.9M508.0,288.3h4M508.0,296.9h4" fill="none" stroke="#e7403a" stroke-width="1.15"/>
<rect x="106.40" y="378.50" width="204.80" height="9.80" fill="#ffffff" stroke="#231f20" stroke-width="1.2"/>
<rect x="311.20" y="378.50" width="200.60" height="9.80" fill="#ffffff" stroke="#231f20" stroke-width="1.2"/>
<rect x="106.40" y="378.50" width="50.90" height="9.80" fill="#4b4c4e" stroke="#231f20" stroke-width="1.2"/>
<rect x="207.50" y="378.50" width="50.30" height="9.80" fill="#4b4c4e" stroke="#231f20" stroke-width="1.2"/>
<rect x="311.20" y="378.50" width="50.10" height="9.80" fill="#4b4c4e" stroke="#231f20" stroke-width="1.2"/>
<rect x="409.50" y="378.50" width="49.30" height="9.80" fill="#4b4c4e" stroke="#231f20" stroke-width="1.2"/>
<rect x="106.4" y="221.3" width="405.4" height="167.0" fill="none" stroke="#231f20" stroke-width="1.3"/>
<line x1="311.20" y1="221.30" x2="311.20" y2="388.30" stroke="#2f2f30" stroke-width="1.9" />
<line x1="103.00" y1="378.50" x2="106.40" y2="378.50" stroke="#231f20" stroke-width="1.2" />
<text transform="translate(101.80000000000001,382.05) scale(0.93,1)" font-size="10.3" fill="#231f20" text-anchor="end">0</text>
<line x1="103.00" y1="332.10" x2="106.40" y2="332.10" stroke="#231f20" stroke-width="1.2" />
<text transform="translate(101.80000000000001,335.65000000000003) scale(0.93,1)" font-size="10.3" fill="#231f20" text-anchor="end">500</text>
<line x1="103.00" y1="286.20" x2="106.40" y2="286.20" stroke="#231f20" stroke-width="1.2" />
<text transform="translate(101.80000000000001,289.75) scale(0.93,1)" font-size="10.3" fill="#231f20" text-anchor="end">1000</text>
<line x1="103.00" y1="239.90" x2="106.40" y2="239.90" stroke="#231f20" stroke-width="1.2" />
<text transform="translate(101.80000000000001,243.45000000000002) scale(0.93,1)" font-size="10.3" fill="#231f20" text-anchor="end">1500</text>
<line x1="206.3" y1="440.9" x2="206.3" y2="578.3" stroke="#555" stroke-width="0.9" stroke-dasharray="1.1,1.6"/>
<line x1="409.2" y1="440.9" x2="409.2" y2="578.3" stroke="#555" stroke-width="0.9" stroke-dasharray="1.1,1.6"/>
<path d="M108.4,538.0 L112.3,537.3 L116.2,535.7 L120.1,532.5 L124.0,532.5 L128.0,531.0 L131.9,527.8 L135.8,527.1 L139.7,527.8 L143.6,530.2 L147.6,527.1 L151.5,530.2 L155.4,528.6 L159.3,531.8 L163.3,532.5 L167.2,532.5 L171.1,533.3 L175.0,534.1 L179.0,532.5 L182.9,529.4 L186.8,531.8 L190.7,530.2 L194.6,525.5 L198.5,523.9 L202.5,521.6 L207.2,519.2" fill="none" stroke="#3dbad6" stroke-width="1.25" stroke-linejoin="round"/>
<path d="M108.4,531.0V545.0M106.4,531.0h4M106.4,545.0h4M112.3,532.8V541.8M110.3,532.8h4M110.3,541.8h4M116.2,529.4V542.0M114.2,529.4h4M114.2,542.0h4M120.1,528.8V536.2M118.1,528.8h4M118.1,536.2h4M124.0,529.2V535.8M122.0,529.2h4M122.0,535.8h4M128.0,527.6V534.4M126.0,527.6h4M126.0,534.4h4M131.9,521.6V534.0M129.9,521.6h4M129.9,534.0h4M135.8,519.9V534.3M133.8,519.9h4M133.8,534.3h4M139.7,522.7V532.9M137.7,522.7h4M137.7,532.9h4M143.6,523.2V537.2M141.6,523.2h4M141.6,537.2h4M147.6,521.6V532.6M145.6,521.6h4M145.6,532.6h4M151.5,524.3V536.1M149.5,524.3h4M149.5,536.1h4M155.4,522.2V535.0M153.4,522.2h4M153.4,535.0h4M159.3,526.7V536.9M157.3,526.7h4M157.3,536.9h4M163.3,528.5V536.5M161.3,528.5h4M161.3,536.5h4M167.2,526.3V538.7M165.2,526.3h4M165.2,538.7h4M171.1,525.6V541.0M169.1,525.6h4M169.1,541.0h4M175.0,530.7V537.5M173.0,530.7h4M173.0,537.5h4M179.0,529.1V535.9M177.0,529.1h4M177.0,535.9h4M182.9,523.0V535.8M180.9,523.0h4M180.9,535.8h4M186.8,524.4V539.2M184.8,524.4h4M184.8,539.2h4M190.7,524.5V535.9M188.7,524.5h4M188.7,535.9h4M194.6,522.2V528.8M192.6,522.2h4M192.6,528.8h4M198.5,518.7V529.1M196.5,518.7h4M196.5,529.1h4M202.5,514.6V528.6M200.5,514.6h4M200.5,528.6h4M207.2,514.9V523.5M205.2,514.9h4M205.2,523.5h4" fill="none" stroke="#3dbad6" stroke-width="1.15"/>
<path d="M108.4,538.0 L112.3,522.4 L116.2,506.7 L120.1,503.5 L123.3,500.4 L126.4,498.8 L129.5,502.0 L133.5,503.5 L137.4,502.0 L140.5,502.7 L144.4,503.5 L147.6,505.9 L150.7,501.2 L154.6,500.4 L157.0,507.5 L160.1,511.4 L164.0,508.2 L168.0,509.8 L171.1,513.7 L174.2,508.2 L178.2,511.4 L182.1,512.2 L186.0,512.2 L189.9,514.5 L193.8,513.7 L197.8,509.0 L200.9,506.7 L204.0,512.9 L208.0,508.2 L210.8,512.8 L213.2,519.2 L215.6,524.0 L218.8,530.4 L222.0,534.4 L225.2,539.2 L228.4,541.6 L231.6,544.0 L234.8,537.6 L238.0,542.4 L241.2,543.2 L244.4,546.4 L247.6,544.0 L250.8,545.6 L254.0,544.0 L257.2,542.4 L260.4,539.2 L263.6,538.4 L266.8,536.0 L270.0,538.4 L273.1,545.6 L276.3,544.8 L279.5,544.0 L282.7,542.4 L285.9,543.2 L289.1,544.8 L293.1,546.4 L297.1,545.6 L301.1,545.6 L305.1,547.2 L309.1,551.2" fill="none" stroke="#5a4db0" stroke-width="1.25" stroke-linejoin="round"/>
<path d="M108.4,534.8V541.2M106.4,534.8h4M106.4,541.2h4M112.3,515.9V528.9M110.3,515.9h4M110.3,528.9h4M116.2,501.5V511.9M114.2,501.5h4M114.2,511.9h4M120.1,498.3V508.7M118.1,498.3h4M118.1,508.7h4M123.3,492.1V508.7M121.3,492.1h4M121.3,508.7h4M126.4,492.0V505.6M124.4,492.0h4M124.4,505.6h4M129.5,492.9V511.1M127.5,492.9h4M127.5,511.1h4M133.5,496.7V510.3M131.5,496.7h4M131.5,510.3h4M137.4,494.9V509.1M135.4,494.9h4M135.4,509.1h4M140.5,494.4V511.0M138.5,494.4h4M138.5,511.0h4M144.4,497.8V509.2M142.4,497.8h4M142.4,509.2h4M147.6,498.3V513.5M145.6,498.3h4M145.6,513.5h4M150.7,496.2V506.2M148.7,496.2h4M148.7,506.2h4M154.6,490.9V509.9M152.6,490.9h4M152.6,509.9h4M157.0,500.2V514.8M155.0,500.2h4M155.0,514.8h4M160.1,502.4V520.4M158.1,502.4h4M158.1,520.4h4M164.0,501.6V514.8M162.0,501.6h4M162.0,514.8h4M168.0,502.7V516.9M166.0,502.7h4M166.0,516.9h4M171.1,506.0V521.4M169.1,506.0h4M169.1,521.4h4M174.2,502.4V514.0M172.2,502.4h4M172.2,514.0h4M178.2,507.0V515.8M176.2,507.0h4M176.2,515.8h4M182.1,504.6V519.8M180.1,504.6h4M180.1,519.8h4M186.0,503.7V520.7M184.0,503.7h4M184.0,520.7h4M189.9,509.3V519.7M187.9,509.3h4M187.9,519.7h4M193.8,504.4V523.0M191.8,504.4h4M191.8,523.0h4M197.8,501.1V516.9M195.8,501.1h4M195.8,516.9h4M200.9,501.5V511.9M198.9,501.5h4M198.9,511.9h4M204.0,506.6V519.2M202.0,506.6h4M202.0,519.2h4M208.0,501.5V514.9M206.0,501.5h4M206.0,514.9h4M210.8,508.7V516.9M208.8,508.7h4M208.8,516.9h4M213.2,514.3V524.1M211.2,514.3h4M211.2,524.1h4M215.6,520.5V527.5M213.6,520.5h4M213.6,527.5h4M218.8,525.9V534.9M216.8,525.9h4M216.8,534.9h4M222.0,528.1V540.7M220.0,528.1h4M220.0,540.7h4M225.2,534.7V543.7M223.2,534.7h4M223.2,543.7h4M228.4,534.8V548.4M226.4,534.8h4M226.4,548.4h4M231.6,540.2V547.8M229.6,540.2h4M229.6,547.8h4M234.8,532.0V543.2M232.8,532.0h4M232.8,543.2h4M238.0,538.3V546.5M236.0,538.3h4M236.0,546.5h4M241.2,540.2V546.2M239.2,540.2h4M239.2,546.2h4M244.4,543.2V549.6M242.4,543.2h4M242.4,549.6h4M247.6,538.1V549.9M245.6,538.1h4M245.6,549.9h4M250.8,538.7V552.5M248.8,538.7h4M248.8,552.5h4M254.0,538.5V549.5M252.0,538.5h4M252.0,549.5h4M257.2,538.0V546.8M255.2,538.0h4M255.2,546.8h4M260.4,532.8V545.6M258.4,532.8h4M258.4,545.6h4M263.6,534.8V542.0M261.6,534.8h4M261.6,542.0h4M266.8,529.2V542.8M264.8,529.2h4M264.8,542.8h4M270.0,534.5V542.3M268.0,534.5h4M268.0,542.3h4M273.1,541.8V549.4M271.1,541.8h4M271.1,549.4h4M276.3,541.0V548.6M274.3,541.0h4M274.3,548.6h4M279.5,540.1V547.9M277.5,540.1h4M277.5,547.9h4M282.7,539.2V545.6M280.7,539.2h4M280.7,545.6h4M285.9,536.6V549.8M283.9,536.6h4M283.9,549.8h4M289.1,539.2V550.4M287.1,539.2h4M287.1,550.4h4M293.1,540.3V552.5M291.1,540.3h4M291.1,552.5h4M297.1,540.4V550.8M295.1,540.4h4M295.1,550.8h4M301.1,542.5V548.7M299.1,542.5h4M299.1,548.7h4M305.1,542.4V552.0M303.1,542.4h4M303.1,552.0h4M309.1,546.0V556.4M307.1,546.0h4M307.1,556.4h4" fill="none" stroke="#5a4db0" stroke-width="1.15"/>
<path d="M311.1,503.3 L314.3,500.2 L317.4,489.2 L320.5,481.4 L324.5,478.2 L328.4,475.1 L332.3,481.4 L336.2,476.7 L340.2,474.3 L343.3,475.9 L347.2,480.6 L351.1,482.9 L355.1,487.6 L359.0,497.1 L362.1,508.0 L366.0,509.6 L370.0,510.4 L373.9,512.7 L377.8,514.3 L381.7,517.5 L385.6,519.0 L389.6,522.2 L393.5,526.9 L397.4,529.2 L400.5,522.2 L403.7,512.7 L406.8,509.6 L410.0,504.9" fill="none" stroke="#3f9442" stroke-width="1.25" stroke-linejoin="round"/>
<path d="M311.1,499.3V507.3M309.1,499.3h4M309.1,507.3h4M314.3,496.8V503.6M312.3,496.8h4M312.3,503.6h4M317.4,486.6V491.8M315.4,486.6h4M315.4,491.8h4M320.5,476.7V486.1M318.5,476.7h4M318.5,486.1h4M324.5,474.5V481.9M322.5,474.5h4M322.5,481.9h4M328.4,469.9V480.3M326.4,469.9h4M326.4,480.3h4M332.3,477.3V485.5M330.3,477.3h4M330.3,485.5h4M336.2,473.1V480.3M334.2,473.1h4M334.2,480.3h4M340.2,469.5V479.1M338.2,469.5h4M338.2,479.1h4M343.3,471.4V480.4M341.3,471.4h4M341.3,480.4h4M347.2,477.8V483.4M345.2,477.8h4M345.2,483.4h4M351.1,477.1V488.7M349.1,477.1h4M349.1,488.7h4M355.1,480.7V494.5M353.1,480.7h4M353.1,494.5h4M359.0,493.1V501.1M357.0,493.1h4M357.0,501.1h4M362.1,503.7V512.3M360.1,503.7h4M360.1,512.3h4M366.0,504.8V514.4M364.0,504.8h4M364.0,514.4h4M370.0,504.1V516.7M368.0,504.1h4M368.0,516.7h4M373.9,505.8V519.6M371.9,505.8h4M371.9,519.6h4M377.8,506.6V522.0M375.8,506.6h4M375.8,522.0h4M381.7,513.6V521.4M379.7,513.6h4M379.7,521.4h4M385.6,515.3V522.7M383.6,515.3h4M383.6,522.7h4M389.6,515.8V528.6M387.6,515.8h4M387.6,528.6h4M393.5,523.3V530.5M391.5,523.3h4M391.5,530.5h4M397.4,525.6V532.8M395.4,525.6h4M395.4,532.8h4M400.5,515.4V529.0M398.5,515.4h4M398.5,529.0h4M403.7,507.6V517.8M401.7,507.6h4M401.7,517.8h4M406.8,504.1V515.1M404.8,504.1h4M404.8,515.1h4M410.0,498.6V511.2M408.0,498.6h4M408.0,511.2h4" fill="none" stroke="#3f9442" stroke-width="1.15"/>
<path d="M311.1,537.8 L312.7,523.7 L315.1,490.8 L318.2,478.2 L321.3,473.5 L325.3,470.4 L329.2,468.0 L333.1,465.7 L337.0,464.9 L340.2,462.5 L343.3,461.0 L346.4,464.1 L350.4,466.5 L354.3,467.3 L358.2,465.7 L362.1,469.6 L366.0,472.0 L370.0,473.5 L373.9,475.1 L377.8,479.8 L381.7,486.1 L385.6,492.4 L389.6,500.2 L392.7,492.4 L396.6,490.8 L399.8,497.1 L402.9,484.5 L406.0,478.2 L409.2,472.0 L410.0,472.8 L413.2,492.0 L416.4,512.8 L419.6,525.5 L422.8,531.9 L426.0,536.7 L429.2,538.3 L433.2,541.5 L437.2,542.3 L440.4,543.9 L444.4,549.5 L447.6,550.3 L450.8,547.9 L454.0,547.1 L458.0,548.7 L462.0,547.1 L466.0,551.1 L469.2,555.1 L473.1,552.7 L477.1,549.5 L480.3,554.3 L484.3,551.9 L488.3,551.1 L491.5,551.9 L494.7,552.7 L497.9,554.3 L501.9,551.1 L505.1,548.7 L509.1,551.9" fill="none" stroke="#e7403a" stroke-width="1.25" stroke-linejoin="round"/>
<path d="M311.1,531.9V543.7M309.1,531.9h4M309.1,543.7h4M312.7,520.2V527.2M310.7,520.2h4M310.7,527.2h4M315.1,485.7V495.9M313.1,485.7h4M313.1,495.9h4M318.2,474.1V482.3M316.2,474.1h4M316.2,482.3h4M321.3,467.1V479.9M319.3,467.1h4M319.3,479.9h4M325.3,463.6V477.2M323.3,463.6h4M323.3,477.2h4M329.2,462.5V473.5M327.2,462.5h4M327.2,473.5h4M333.1,461.0V470.4M331.1,461.0h4M331.1,470.4h4M337.0,459.1V470.7M335.0,459.1h4M335.0,470.7h4M340.2,458.9V466.1M338.2,458.9h4M338.2,466.1h4M343.3,454.1V467.9M341.3,454.1h4M341.3,467.9h4M346.4,460.3V467.9M344.4,460.3h4M344.4,467.9h4M350.4,460.5V472.5M348.4,460.5h4M348.4,472.5h4M354.3,462.1V472.5M352.3,462.1h4M352.3,472.5h4M358.2,462.0V469.4M356.2,462.0h4M356.2,469.4h4M362.1,462.9V476.3M360.1,462.9h4M360.1,476.3h4M366.0,467.3V476.7M364.0,467.3h4M364.0,476.7h4M370.0,468.6V478.4M368.0,468.6h4M368.0,478.4h4M373.9,470.9V479.3M371.9,470.9h4M371.9,479.3h4M377.8,475.3V484.3M375.8,475.3h4M375.8,484.3h4M381.7,482.3V489.9M379.7,482.3h4M379.7,489.9h4M385.6,487.9V496.9M383.6,487.9h4M383.6,496.9h4M389.6,493.4V507.0M387.6,493.4h4M387.6,507.0h4M392.7,488.6V496.2M390.7,488.6h4M390.7,496.2h4M396.6,484.3V497.3M394.6,484.3h4M394.6,497.3h4M399.8,492.2V502.0M397.8,492.2h4M397.8,502.0h4M402.9,478.4V490.6M400.9,478.4h4M400.9,490.6h4M406.0,473.9V482.5M404.0,473.9h4M404.0,482.5h4M409.2,468.2V475.8M407.2,468.2h4M407.2,475.8h4M410.0,467.6V478.0M408.0,467.6h4M408.0,478.0h4M413.2,488.3V495.7M411.2,488.3h4M411.2,495.7h4M416.4,509.0V516.6M414.4,509.0h4M414.4,516.6h4M419.6,522.4V528.6M417.6,522.4h4M417.6,528.6h4M422.8,527.8V536.0M420.8,527.8h4M420.8,536.0h4M426.0,530.6V542.8M424.0,530.6h4M424.0,542.8h4M429.2,531.7V544.9M427.2,531.7h4M427.2,544.9h4M433.2,536.0V547.0M431.2,536.0h4M431.2,547.0h4M437.2,538.9V545.7M435.2,538.9h4M435.2,545.7h4M440.4,540.1V547.7M438.4,540.1h4M438.4,547.7h4M444.4,543.8V555.2M442.4,543.8h4M442.4,555.2h4M447.6,545.8V554.8M445.6,545.8h4M445.6,554.8h4M450.8,541.3V554.5M448.8,541.3h4M448.8,554.5h4M454.0,543.2V551.0M452.0,543.2h4M452.0,551.0h4M458.0,542.6V554.8M456.0,542.6h4M456.0,554.8h4M462.0,542.6V551.6M460.0,542.6h4M460.0,551.6h4M466.0,544.6V557.6M464.0,544.6h4M464.0,557.6h4M469.2,548.7V561.5M467.2,548.7h4M467.2,561.5h4M473.1,546.2V559.2M471.1,546.2h4M471.1,559.2h4M477.1,546.0V553.0M475.1,546.0h4M475.1,553.0h4M480.3,548.4V560.2M478.3,548.4h4M478.3,560.2h4M484.3,548.4V555.4M482.3,548.4h4M482.3,555.4h4M488.3,544.8V557.4M486.3,544.8h4M486.3,557.4h4M491.5,547.6V556.2M489.5,547.6h4M489.5,556.2h4M494.7,547.6V557.8M492.7,547.6h4M492.7,557.8h4M497.9,548.6V560.0M495.9,548.6h4M495.9,560.0h4M501.9,547.4V554.8M499.9,547.4h4M499.9,554.8h4M505.1,545.1V552.3M503.1,545.1h4M503.1,552.3h4M509.1,546.3V557.5M507.1,546.3h4M507.1,557.5h4" fill="none" stroke="#e7403a" stroke-width="1.15"/>
<rect x="106.20" y="578.30" width="203.90" height="9.70" fill="#ffffff" stroke="#231f20" stroke-width="1.2"/>
<rect x="310.10" y="578.30" width="200.90" height="9.70" fill="#ffffff" stroke="#231f20" stroke-width="1.2"/>
<rect x="106.20" y="578.30" width="50.30" height="9.70" fill="#4b4c4e" stroke="#231f20" stroke-width="1.2"/>
<rect x="206.30" y="578.30" width="50.30" height="9.70" fill="#4b4c4e" stroke="#231f20" stroke-width="1.2"/>
<rect x="310.10" y="578.30" width="50.60" height="9.70" fill="#4b4c4e" stroke="#231f20" stroke-width="1.2"/>
<rect x="409.20" y="578.30" width="50.10" height="9.70" fill="#4b4c4e" stroke="#231f20" stroke-width="1.2"/>
<rect x="106.2" y="422.4" width="404.8" height="165.60000000000002" fill="none" stroke="#231f20" stroke-width="1.3"/>
<line x1="310.10" y1="422.40" x2="310.10" y2="588.00" stroke="#2f2f30" stroke-width="1.9" />
<line x1="102.80" y1="578.20" x2="106.20" y2="578.20" stroke="#231f20" stroke-width="1.2" />
<text transform="translate(101.60000000000001,581.75) scale(0.93,1)" font-size="10.3" fill="#231f20" text-anchor="end">0.6</text>
<line x1="102.80" y1="544.10" x2="106.20" y2="544.10" stroke="#231f20" stroke-width="1.2" />
<text transform="translate(101.60000000000001,547.65) scale(0.93,1)" font-size="10.3" fill="#231f20" text-anchor="end">0.7</text>
<line x1="102.80" y1="510.10" x2="106.20" y2="510.10" stroke="#231f20" stroke-width="1.2" />
<text transform="translate(101.60000000000001,513.65) scale(0.93,1)" font-size="10.3" fill="#231f20" text-anchor="end">0.8</text>
<line x1="102.80" y1="476.20" x2="106.20" y2="476.20" stroke="#231f20" stroke-width="1.2" />
<text transform="translate(101.60000000000001,479.75) scale(0.93,1)" font-size="10.3" fill="#231f20" text-anchor="end">0.9</text>
<line x1="102.80" y1="442.20" x2="106.20" y2="442.20" stroke="#231f20" stroke-width="1.2" />
<text transform="translate(101.60000000000001,445.75) scale(0.93,1)" font-size="10.3" fill="#231f20" text-anchor="end">1.0</text>
<line x1="208.8" y1="638.0" x2="208.8" y2="775.9" stroke="#555" stroke-width="0.9" stroke-dasharray="1.1,1.6"/>
<line x1="410.8" y1="638.0" x2="410.8" y2="775.9" stroke="#555" stroke-width="0.9" stroke-dasharray="1.1,1.6"/>
<path d="M110.7,771.8 L114.6,771.0 L118.5,769.4 L122.5,766.3 L126.4,766.3 L130.3,764.7 L134.2,760.8 L138.2,760.0 L142.1,762.4 L146.0,763.9 L149.9,760.8 L153.8,762.4 L157.8,763.1 L161.7,766.3 L165.6,767.8 L169.5,768.6 L173.5,767.1 L177.4,767.1 L181.3,765.5 L185.2,763.1 L189.1,764.7 L193.1,762.4 L197.0,751.4 L200.9,748.2 L204.0,746.7 L208.0,752.9" fill="none" stroke="#3dbad6" stroke-width="1.25" stroke-linejoin="round"/>
<path d="M110.7,766.6V775.4M108.7,766.6h4M108.7,775.4h4M114.6,766.6V775.4M112.6,766.6h4M112.6,775.4h4M118.5,764.4V774.4M116.5,764.4h4M116.5,774.4h4M122.5,763.3V769.3M120.5,763.3h4M120.5,769.3h4M126.4,762.3V770.3M124.4,762.3h4M124.4,770.3h4M130.3,759.4V770.0M128.3,759.4h4M128.3,770.0h4M134.2,757.3V764.3M132.2,757.3h4M132.2,764.3h4M138.2,756.5V763.5M136.2,756.5h4M136.2,763.5h4M142.1,756.6V768.2M140.1,756.6h4M140.1,768.2h4M146.0,758.3V769.5M144.0,758.3h4M144.0,769.5h4M149.9,755.6V766.0M147.9,755.6h4M147.9,766.0h4M153.8,757.8V767.0M151.8,757.8h4M151.8,767.0h4M157.8,758.2V768.0M155.8,758.2h4M155.8,768.0h4M161.7,763.2V769.4M159.7,763.2h4M159.7,769.4h4M165.6,764.3V771.3M163.6,764.3h4M163.6,771.3h4M169.5,763.6V773.6M167.5,763.6h4M167.5,773.6h4M173.5,762.9V771.3M171.5,762.9h4M171.5,771.3h4M177.4,760.8V773.4M175.4,760.8h4M175.4,773.4h4M181.3,760.2V770.8M179.3,760.2h4M179.3,770.8h4M185.2,757.8V768.4M183.2,757.8h4M183.2,768.4h4M189.1,758.2V771.2M187.1,758.2h4M187.1,771.2h4M193.1,758.5V766.3M191.1,758.5h4M191.1,766.3h4M197.0,747.3V755.5M195.0,747.3h4M195.0,755.5h4M200.9,744.1V752.3M198.9,744.1h4M198.9,752.3h4M204.0,740.1V753.3M202.0,740.1h4M202.0,753.3h4M208.0,746.9V758.9M206.0,746.9h4M206.0,758.9h4" fill="none" stroke="#3dbad6" stroke-width="1.15"/>
<path d="M110.7,770.2 L113.1,760.8 L115.4,752.9 L118.5,743.5 L121.7,742.7 L124.8,743.5 L128.7,737.3 L131.9,742.0 L135.8,743.5 L139.7,744.3 L143.6,745.1 L147.6,749.0 L151.5,752.9 L155.4,746.7 L159.3,742.0 L162.5,757.6 L165.6,756.9 L169.5,756.9 L173.5,755.3 L177.4,754.5 L181.3,757.6 L185.2,756.1 L189.1,757.6 L193.1,756.9 L197.0,759.2 L200.1,754.5 L204.0,756.1 L208.0,751.4 L210.0,750.0 L212.4,754.0 L215.6,758.8 L218.8,763.6 L222.0,768.4 L226.0,772.4 L229.2,772.4" fill="none" stroke="#5a4db0" stroke-width="1.25" stroke-linejoin="round"/>
<path d="M110.7,766.4V774.0M108.7,766.4h4M108.7,774.0h4M113.1,755.0V766.6M111.1,755.0h4M111.1,766.6h4M115.4,749.5V756.3M113.4,749.5h4M113.4,756.3h4M118.5,734.9V752.1M116.5,734.9h4M116.5,752.1h4M121.7,734.2V751.2M119.7,734.2h4M119.7,751.2h4M124.8,735.5V751.5M122.8,735.5h4M122.8,751.5h4M128.7,729.8V744.8M126.7,729.8h4M126.7,744.8h4M131.9,732.4V751.6M129.9,732.4h4M129.9,751.6h4M135.8,736.0V751.0M133.8,736.0h4M133.8,751.0h4M139.7,736.6V752.0M137.7,736.6h4M137.7,752.0h4M143.6,740.6V749.6M141.6,740.6h4M141.6,749.6h4M147.6,744.3V753.7M145.6,744.3h4M145.6,753.7h4M151.5,744.6V761.2M149.5,744.6h4M149.5,761.2h4M155.4,740.6V752.8M153.4,740.6h4M153.4,752.8h4M159.3,735.9V748.1M157.3,735.9h4M157.3,748.1h4M162.5,751.2V764.0M160.5,751.2h4M160.5,764.0h4M165.6,750.4V763.4M163.6,750.4h4M163.6,763.4h4M169.5,749.0V764.8M167.5,749.0h4M167.5,764.8h4M173.5,749.3V761.3M171.5,749.3h4M171.5,761.3h4M177.4,745.3V763.7M175.4,745.3h4M175.4,763.7h4M181.3,748.2V767.0M179.3,748.2h4M179.3,767.0h4M185.2,746.6V765.6M183.2,746.6h4M183.2,765.6h4M189.1,748.9V766.3M187.1,748.9h4M187.1,766.3h4M193.1,750.5V763.3M191.1,750.5h4M191.1,763.3h4M197.0,751.2V767.2M195.0,751.2h4M195.0,767.2h4M200.1,749.2V759.8M198.1,749.2h4M198.1,759.8h4M204.0,751.6V760.6M202.0,751.6h4M202.0,760.6h4M208.0,743.2V759.6M206.0,743.2h4M206.0,759.6h4M210.0,746.4V753.6M208.0,746.4h4M208.0,753.6h4M212.4,747.8V760.2M210.4,747.8h4M210.4,760.2h4M215.6,755.3V762.3M213.6,755.3h4M213.6,762.3h4M218.8,760.0V767.2M216.8,760.0h4M216.8,767.2h4M222.0,765.5V771.3M220.0,765.5h4M220.0,771.3h4M226.0,767.1V775.4M224.0,767.1h4M224.0,775.4h4M229.2,769.1V775.4M227.2,769.1h4M227.2,775.4h4" fill="none" stroke="#5a4db0" stroke-width="1.15"/>
<path d="M236.4,770.2V775.4M234.4,770.2h4M234.4,775.4h4" fill="none" stroke="#5a4db0" stroke-width="1.15"/>
<path d="M262.0,774.6 L266.0,774.3 L271.5,774.0" fill="none" stroke="#5a4db0" stroke-width="1.25" stroke-linejoin="round"/>
<path d="M262.0,773.6V775.4M260.0,773.6h4M260.0,775.4h4M266.0,773.3V775.3M264.0,773.3h4M264.0,775.3h4M271.5,773.3V774.7M269.5,773.3h4M269.5,774.7h4" fill="none" stroke="#5a4db0" stroke-width="1.15"/>
<path d="M286.7,771.0V775.4M284.7,771.0h4M284.7,775.4h4" fill="none" stroke="#5a4db0" stroke-width="1.15"/>
<path d="M313.5,734.1 L315.8,718.4 L318.2,702.7 L321.3,693.3 L324.5,690.2 L327.6,693.3 L330.7,691.8 L333.9,709.0 L337.0,694.9 L340.2,690.2 L344.1,683.9 L347.2,698.0 L350.4,702.7 L353.5,705.9 L356.6,713.7 L360.5,724.7 L363.7,735.7 L367.6,742.0 L370.7,742.0 L374.7,743.5 L377.8,746.7 L380.9,748.2 L384.9,751.4 L388.0,752.9 L391.9,756.1 L395.1,759.2 L398.2,761.6 L401.3,759.2 L404.5,748.2 L407.6,745.2 L410.8,737.0" fill="none" stroke="#3f9442" stroke-width="1.25" stroke-linejoin="round"/>
<path d="M313.5,728.8V739.4M311.5,728.8h4M311.5,739.4h4M315.8,713.7V723.1M313.8,713.7h4M313.8,723.1h4M318.2,698.6V706.8M316.2,698.6h4M316.2,706.8h4M321.3,688.6V698.0M319.3,688.6h4M319.3,698.0h4M324.5,682.5V697.9M322.5,682.5h4M322.5,697.9h4M327.6,685.6V701.0M325.6,685.6h4M325.6,701.0h4M330.7,686.8V696.8M328.7,686.8h4M328.7,696.8h4M333.9,698.9V719.1M331.9,698.9h4M331.9,719.1h4M337.0,684.1V705.7M335.0,684.1h4M335.0,705.7h4M340.2,683.6V696.8M338.2,683.6h4M338.2,696.8h4M344.1,672.8V695.0M342.1,672.8h4M342.1,695.0h4M347.2,688.6V707.4M345.2,688.6h4M345.2,707.4h4M350.4,697.7V707.7M348.4,697.7h4M348.4,707.7h4M353.5,697.7V714.1M351.5,697.7h4M351.5,714.1h4M356.6,706.8V720.6M354.6,706.8h4M354.6,720.6h4M360.5,715.5V733.9M358.5,715.5h4M358.5,733.9h4M363.7,728.1V743.3M361.7,728.1h4M361.7,743.3h4M367.6,736.5V747.5M365.6,736.5h4M365.6,747.5h4M370.7,736.8V747.2M368.7,736.8h4M368.7,747.2h4M374.7,736.1V750.9M372.7,736.1h4M372.7,750.9h4M377.8,742.3V751.1M375.8,742.3h4M375.8,751.1h4M380.9,740.8V755.6M378.9,740.8h4M378.9,755.6h4M384.9,745.3V757.5M382.9,745.3h4M382.9,757.5h4M388.0,747.2V758.6M386.0,747.2h4M386.0,758.6h4M391.9,751.2V761.0M389.9,751.2h4M389.9,761.0h4M395.1,753.2V765.2M393.1,753.2h4M393.1,765.2h4M398.2,757.5V765.7M396.2,757.5h4M396.2,765.7h4M401.3,751.7V766.7M399.3,751.7h4M399.3,766.7h4M404.5,743.0V753.4M402.5,743.0h4M402.5,753.4h4M407.6,736.9V753.5M405.6,736.9h4M405.6,753.5h4M410.8,730.9V743.1M408.8,730.9h4M408.8,743.1h4" fill="none" stroke="#3f9442" stroke-width="1.15"/>
<path d="M314.0,770.2 L315.1,742.0 L316.6,710.6 L319.0,687.1 L321.3,677.6 L324.5,674.5 L327.6,672.2 L330.7,678.4 L333.9,675.3 L337.0,680.0 L341.0,665.9 L344.1,661.2 L347.2,657.3 L350.4,668.2 L353.5,677.6 L357.4,682.4 L361.3,683.9 L364.5,680.8 L367.6,694.9 L370.7,705.9 L374.7,699.6 L377.8,707.5 L380.9,712.2 L384.9,718.4 L388.0,724.7 L391.9,732.5 L395.1,723.1 L398.2,720.0 L401.3,724.7 L404.5,710.6 L407.3,707.7 L410.8,697.9 L413.8,701.2 L415.4,719.1 L417.8,727.2 L420.3,741.9 L423.5,751.7 L426.0,763.1 L429.2,768.0 L432.5,770.4 L436.6,772.8 L439.0,773.7" fill="none" stroke="#e7403a" stroke-width="1.25" stroke-linejoin="round"/>
<path d="M314.0,767.1V773.3M312.0,767.1h4M312.0,773.3h4M315.1,737.7V746.3M313.1,737.7h4M313.1,746.3h4M316.6,706.9V714.3M314.6,706.9h4M314.6,714.3h4M319.0,681.4V692.8M317.0,681.4h4M317.0,692.8h4M321.3,669.6V685.6M319.3,669.6h4M319.3,685.6h4M324.5,665.8V683.2M322.5,665.8h4M322.5,683.2h4M327.6,665.2V679.2M325.6,665.2h4M325.6,679.2h4M330.7,672.9V683.9M328.7,672.9h4M328.7,683.9h4M333.9,668.6V682.0M331.9,668.6h4M331.9,682.0h4M337.0,670.0V690.0M335.0,670.0h4M335.0,690.0h4M341.0,660.5V671.3M339.0,660.5h4M339.0,671.3h4M344.1,651.8V670.6M342.1,651.8h4M342.1,670.6h4M347.2,650.5V664.1M345.2,650.5h4M345.2,664.1h4M350.4,657.9V678.5M348.4,657.9h4M348.4,678.5h4M353.5,668.2V687.0M351.5,668.2h4M351.5,687.0h4M357.4,674.4V690.4M355.4,674.4h4M355.4,690.4h4M361.3,671.3V696.5M359.3,671.3h4M359.3,696.5h4M364.5,667.7V693.9M362.5,667.7h4M362.5,693.9h4M367.6,685.5V704.3M365.6,685.5h4M365.6,704.3h4M370.7,693.5V718.3M368.7,693.5h4M368.7,718.3h4M374.7,686.9V712.3M372.7,686.9h4M372.7,712.3h4M377.8,697.2V717.8M375.8,697.2h4M375.8,717.8h4M380.9,699.1V725.3M378.9,699.1h4M378.9,725.3h4M384.9,705.6V731.2M382.9,705.6h4M382.9,731.2h4M388.0,716.7V732.7M386.0,716.7h4M386.0,732.7h4M391.9,725.2V739.8M389.9,725.2h4M389.9,739.8h4M395.1,714.4V731.8M393.1,714.4h4M393.1,731.8h4M398.2,715.3V724.7M396.2,715.3h4M396.2,724.7h4M401.3,717.1V732.3M399.3,717.1h4M399.3,732.3h4M404.5,700.5V720.7M402.5,700.5h4M402.5,720.7h4M407.3,699.6V715.8M405.3,699.6h4M405.3,715.8h4M410.8,691.8V704.0M408.8,691.8h4M408.8,704.0h4M413.8,695.7V706.7M411.8,695.7h4M411.8,706.7h4M415.4,714.3V723.9M413.4,714.3h4M413.4,723.9h4M417.8,721.2V733.2M415.8,721.2h4M415.8,733.2h4M420.3,738.5V745.3M418.3,738.5h4M418.3,745.3h4M423.5,745.3V758.1M421.5,745.3h4M421.5,758.1h4M426.0,758.1V768.1M424.0,758.1h4M424.0,768.1h4M429.2,764.2V771.8M427.2,764.2h4M427.2,771.8h4M432.5,767.2V773.6M430.5,767.2h4M430.5,773.6h4M436.6,770.4V775.2M434.6,770.4h4M434.6,775.2h4M439.0,769.4V775.4M437.0,769.4h4M437.0,775.4h4" fill="none" stroke="#e7403a" stroke-width="1.15"/>
<rect x="108.80" y="775.90" width="203.80" height="10.10" fill="#ffffff" stroke="#231f20" stroke-width="1.2"/>
<rect x="312.60" y="775.90" width="200.20" height="10.10" fill="#ffffff" stroke="#231f20" stroke-width="1.2"/>
<rect x="108.80" y="775.90" width="50.50" height="10.10" fill="#4b4c4e" stroke="#231f20" stroke-width="1.2"/>
<rect x="208.60" y="775.90" width="51.10" height="10.10" fill="#4b4c4e" stroke="#231f20" stroke-width="1.2"/>
<rect x="312.60" y="775.90" width="50.60" height="10.10" fill="#4b4c4e" stroke="#231f20" stroke-width="1.2"/>
<rect x="410.60" y="775.90" width="49.70" height="10.10" fill="#4b4c4e" stroke="#231f20" stroke-width="1.2"/>
<rect x="108.8" y="619.5" width="403.99999999999994" height="166.5" fill="none" stroke="#231f20" stroke-width="1.3"/>
<line x1="312.60" y1="619.50" x2="312.60" y2="786.00" stroke="#2f2f30" stroke-width="1.9" />
<line x1="105.40" y1="775.90" x2="108.80" y2="775.90" stroke="#231f20" stroke-width="1.2" />
<text transform="translate(104.2,779.4499999999999) scale(0.93,1)" font-size="10.3" fill="#231f20" text-anchor="end">0</text>
<line x1="105.40" y1="749.90" x2="108.80" y2="749.90" stroke="#231f20" stroke-width="1.2" />
<text transform="translate(104.2,753.4499999999999) scale(0.93,1)" font-size="10.3" fill="#231f20" text-anchor="end">1000</text>
<line x1="105.40" y1="723.70" x2="108.80" y2="723.70" stroke="#231f20" stroke-width="1.2" />
<text transform="translate(104.2,727.25) scale(0.93,1)" font-size="10.3" fill="#231f20" text-anchor="end">2000</text>
<line x1="105.40" y1="697.60" x2="108.80" y2="697.60" stroke="#231f20" stroke-width="1.2" />
<text transform="translate(104.2,701.15) scale(0.93,1)" font-size="10.3" fill="#231f20" text-anchor="end">3000</text>
<line x1="105.40" y1="671.40" x2="108.80" y2="671.40" stroke="#231f20" stroke-width="1.2" />
<text transform="translate(104.2,674.9499999999999) scale(0.93,1)" font-size="10.3" fill="#231f20" text-anchor="end">4000</text>
<line x1="105.40" y1="645.60" x2="108.80" y2="645.60" stroke="#231f20" stroke-width="1.2" />
<text transform="translate(104.2,649.15) scale(0.93,1)" font-size="10.3" fill="#231f20" text-anchor="end">5000</text>
<line x1="105.40" y1="619.50" x2="108.80" y2="619.50" stroke="#231f20" stroke-width="1.2" />
<text transform="translate(104.2,623.05) scale(0.93,1)" font-size="10.3" fill="#231f20" text-anchor="end">6000</text>
<line x1="209.3" y1="837.4" x2="209.3" y2="975.6" stroke="#555" stroke-width="0.9" stroke-dasharray="1.1,1.6"/>
<line x1="410.4" y1="837.4" x2="410.4" y2="975.6" stroke="#555" stroke-width="0.9" stroke-dasharray="1.1,1.6"/>
<path d="M111.1,915.7 L115.1,914.1 L119.0,912.5 L122.9,910.2 L126.0,912.5 L129.2,914.9 L132.3,911.0 L136.2,912.5 L139.4,915.7 L142.5,921.2 L145.6,918.8 L149.6,918.0 L153.5,917.3 L156.6,920.4 L159.8,927.5 L163.7,930.6 L167.6,933.7 L170.7,931.4 L173.9,928.2 L177.0,925.1 L181.0,923.5 L184.9,922.7 L188.8,918.8 L192.7,915.7 L196.6,918.8 L200.5,919.6 L204.5,925.1 L208.4,920.4" fill="none" stroke="#3dbad6" stroke-width="1.25" stroke-linejoin="round"/>
<path d="M111.1,910.1V921.3M109.1,910.1h4M109.1,921.3h4M115.1,908.2V920.0M113.1,908.2h4M113.1,920.0h4M119.0,905.6V919.4M117.0,905.6h4M117.0,919.4h4M122.9,903.9V916.5M120.9,903.9h4M120.9,916.5h4M126.0,907.9V917.1M124.0,907.9h4M124.0,917.1h4M129.2,909.3V920.5M127.2,909.3h4M127.2,920.5h4M132.3,906.1V915.9M130.3,906.1h4M130.3,915.9h4M136.2,906.6V918.4M134.2,906.6h4M134.2,918.4h4M139.4,911.6V919.8M137.4,911.6h4M137.4,919.8h4M142.5,915.0V927.4M140.5,915.0h4M140.5,927.4h4M145.6,914.8V922.8M143.6,914.8h4M143.6,922.8h4M149.6,911.2V924.8M147.6,911.2h4M147.6,924.8h4M153.5,910.9V923.7M151.5,910.9h4M151.5,923.7h4M156.6,914.7V926.1M154.6,914.7h4M154.6,926.1h4M159.8,923.4V931.6M157.8,923.4h4M157.8,931.6h4M163.7,925.9V935.3M161.7,925.9h4M161.7,935.3h4M167.6,930.0V937.4M165.6,930.0h4M165.6,937.4h4M170.7,925.0V937.8M168.7,925.0h4M168.7,937.8h4M173.9,921.8V934.6M171.9,921.8h4M171.9,934.6h4M177.0,918.2V932.0M175.0,918.2h4M175.0,932.0h4M181.0,919.3V927.7M179.0,919.3h4M179.0,927.7h4M184.9,916.8V928.6M182.9,916.8h4M182.9,928.6h4M188.8,914.5V923.1M186.8,914.5h4M186.8,923.1h4M192.7,908.9V922.5M190.7,908.9h4M190.7,922.5h4M196.6,915.5V922.1M194.6,915.5h4M194.6,922.1h4M200.5,915.8V923.4M198.5,915.8h4M198.5,923.4h4M204.5,918.2V932.0M202.5,918.2h4M202.5,932.0h4M208.4,916.3V924.5M206.4,916.3h4M206.4,924.5h4" fill="none" stroke="#3dbad6" stroke-width="1.15"/>
<path d="M111.9,911.0 L115.1,922.0 L119.0,931.4 L122.1,936.1 L125.3,938.4 L128.4,937.6 L132.3,936.9 L136.2,937.6 L139.4,935.3 L142.5,934.5 L145.6,936.1 L148.8,939.2 L152.7,942.4 L156.6,940.8 L159.8,938.4 L162.9,941.6 L166.0,944.7 L169.2,941.6 L172.3,940.0 L176.2,941.6 L180.2,940.8 L184.1,938.4 L188.0,935.3 L191.9,933.7 L195.8,938.4 L199.8,936.9 L203.7,939.2 L207.6,935.3 L209.6,931.4 L212.8,930.6 L216.0,927.4 L219.2,933.8 L223.2,926.6 L226.4,932.2 L229.6,926.6 L232.8,927.4 L236.0,936.2 L239.2,937.0 L242.4,934.6 L246.4,938.6 L249.6,935.4 L252.8,943.4 L256.0,941.8 L259.2,949.0 L263.2,956.2 L267.2,957.8 L270.3,955.4 L272.7,946.6 L275.9,940.2 L279.9,934.6 L283.1,932.2 L286.3,929.8 L289.5,929.0 L293.5,929.0 L296.7,929.8 L299.9,928.2 L303.9,929.0 L307.1,928.2 L310.3,926.6" fill="none" stroke="#5a4db0" stroke-width="1.25" stroke-linejoin="round"/>
<path d="M111.9,904.0V918.0M109.9,904.0h4M109.9,918.0h4M115.1,916.3V927.7M113.1,916.3h4M113.1,927.7h4M119.0,927.5V935.3M117.0,927.5h4M117.0,935.3h4M122.1,930.4V941.8M120.1,930.4h4M120.1,941.8h4M125.3,930.2V946.6M123.3,930.2h4M123.3,946.6h4M128.4,931.5V943.7M126.4,931.5h4M126.4,943.7h4M132.3,930.0V943.8M130.3,930.0h4M130.3,943.8h4M136.2,932.9V942.3M134.2,932.9h4M134.2,942.3h4M139.4,929.2V941.4M137.4,929.2h4M137.4,941.4h4M142.5,928.7V940.3M140.5,928.7h4M140.5,940.3h4M145.6,931.5V940.7M143.6,931.5h4M143.6,940.7h4M148.8,934.0V944.4M146.8,934.0h4M146.8,944.4h4M152.7,938.0V946.8M150.7,938.0h4M150.7,946.8h4M156.6,932.4V949.2M154.6,932.4h4M154.6,949.2h4M159.8,931.9V944.9M157.8,931.9h4M157.8,944.9h4M162.9,935.0V948.2M160.9,935.0h4M160.9,948.2h4M166.0,936.8V952.6M164.0,936.8h4M164.0,952.6h4M169.2,934.1V949.1M167.2,934.1h4M167.2,949.1h4M172.3,934.6V945.4M170.3,934.6h4M170.3,945.4h4M176.2,933.1V950.1M174.2,933.1h4M174.2,950.1h4M180.2,934.0V947.6M178.2,934.0h4M178.2,947.6h4M184.1,929.5V947.3M182.1,929.5h4M182.1,947.3h4M188.0,930.0V940.6M186.0,930.0h4M186.0,940.6h4M191.9,928.0V939.4M189.9,928.0h4M189.9,939.4h4M195.8,934.2V942.6M193.8,934.2h4M193.8,942.6h4M199.8,928.8V945.0M197.8,928.8h4M197.8,945.0h4M203.7,932.1V946.3M201.7,932.1h4M201.7,946.3h4M207.6,927.2V943.4M205.6,927.2h4M205.6,943.4h4M209.6,925.5V937.3M207.6,925.5h4M207.6,937.3h4M212.8,921.9V939.3M210.8,921.9h4M210.8,939.3h4M216.0,919.6V935.2M214.0,919.6h4M214.0,935.2h4M219.2,925.7V941.9M217.2,925.7h4M217.2,941.9h4M223.2,922.5V930.7M221.2,922.5h4M221.2,930.7h4M226.4,924.0V940.4M224.4,924.0h4M224.4,940.4h4M229.6,917.7V935.5M227.6,917.7h4M227.6,935.5h4M232.8,919.7V935.1M230.8,919.7h4M230.8,935.1h4M236.0,930.0V942.4M234.0,930.0h4M234.0,942.4h4M239.2,929.9V944.1M237.2,929.9h4M237.2,944.1h4M242.4,929.3V939.9M240.4,929.3h4M240.4,939.9h4M246.4,933.7V943.5M244.4,933.7h4M244.4,943.5h4M249.6,926.9V943.9M247.6,926.9h4M247.6,943.9h4M252.8,936.2V950.6M250.8,936.2h4M250.8,950.6h4M256.0,933.3V950.3M254.0,933.3h4M254.0,950.3h4M259.2,943.9V954.1M257.2,943.9h4M257.2,954.1h4M263.2,950.2V962.2M261.2,950.2h4M261.2,962.2h4M267.2,949.6V966.0M265.2,949.6h4M265.2,966.0h4M270.3,950.8V960.0M268.3,950.8h4M268.3,960.0h4M272.7,940.0V953.2M270.7,940.0h4M270.7,953.2h4M275.9,933.9V946.5M273.9,933.9h4M273.9,946.5h4M279.9,929.5V939.7M277.9,929.5h4M277.9,939.7h4M283.1,924.4V940.0M281.1,924.4h4M281.1,940.0h4M286.3,922.5V937.1M284.3,922.5h4M284.3,937.1h4M289.5,923.0V935.0M287.5,923.0h4M287.5,935.0h4M293.5,921.1V936.9M291.5,921.1h4M291.5,936.9h4M296.7,920.8V938.8M294.7,920.8h4M294.7,938.8h4M299.9,923.8V932.6M297.9,923.8h4M297.9,932.6h4M303.9,919.9V938.1M301.9,919.9h4M301.9,938.1h4M307.1,922.9V933.5M305.1,922.9h4M305.1,933.5h4M310.3,920.5V932.7M308.3,920.5h4M308.3,932.7h4" fill="none" stroke="#5a4db0" stroke-width="1.15"/>
<path d="M313.5,918.6 L315.8,913.1 L318.2,924.9 L320.5,932.7 L323.7,939.8 L326.8,941.4 L330.0,942.9 L333.1,941.4 L336.2,940.6 L339.4,942.2 L342.5,942.2 L345.6,941.4 L348.8,940.6 L351.9,939.0 L355.1,937.5 L358.2,934.3 L360.5,929.6 L363.7,921.8 L366.8,924.9 L370.0,924.1 L373.1,923.3 L376.2,921.8 L379.4,920.2 L382.5,919.4 L385.6,918.6 L388.8,917.1 L391.9,915.5 L395.1,912.4 L398.2,909.2 L401.3,912.4 L404.5,918.6 L407.6,921.0 L410.7,924.1" fill="none" stroke="#3f9442" stroke-width="1.25" stroke-linejoin="round"/>
<path d="M313.5,912.5V924.7M311.5,912.5h4M311.5,924.7h4M315.8,909.4V916.8M313.8,909.4h4M313.8,916.8h4M318.2,920.4V929.4M316.2,920.4h4M316.2,929.4h4M320.5,927.4V938.0M318.5,927.4h4M318.5,938.0h4M323.7,935.4V944.2M321.7,935.4h4M321.7,944.2h4M326.8,936.9V945.9M324.8,936.9h4M324.8,945.9h4M330.0,937.9V947.9M328.0,937.9h4M328.0,947.9h4M333.1,938.6V944.2M331.1,938.6h4M331.1,944.2h4M336.2,935.7V945.5M334.2,935.7h4M334.2,945.5h4M339.4,936.8V947.6M337.4,936.8h4M337.4,947.6h4M342.5,938.8V945.6M340.5,938.8h4M340.5,945.6h4M345.6,937.0V945.8M343.6,937.0h4M343.6,945.8h4M348.8,936.2V945.0M346.8,936.2h4M346.8,945.0h4M351.9,933.4V944.6M349.9,933.4h4M349.9,944.6h4M355.1,931.4V943.6M353.1,931.4h4M353.1,943.6h4M358.2,928.9V939.7M356.2,928.9h4M356.2,939.7h4M360.5,926.5V932.7M358.5,926.5h4M358.5,932.7h4M363.7,916.2V927.4M361.7,916.2h4M361.7,927.4h4M366.8,920.9V928.9M364.8,920.9h4M364.8,928.9h4M370.0,920.9V927.3M368.0,920.9h4M368.0,927.3h4M373.1,917.1V929.5M371.1,917.1h4M371.1,929.5h4M376.2,917.8V925.8M374.2,917.8h4M374.2,925.8h4M379.4,916.9V923.5M377.4,916.9h4M377.4,923.5h4M382.5,915.0V923.8M380.5,915.0h4M380.5,923.8h4M385.6,912.4V924.8M383.6,912.4h4M383.6,924.8h4M388.8,912.9V921.3M386.8,912.9h4M386.8,921.3h4M391.9,912.3V918.7M389.9,912.3h4M389.9,918.7h4M395.1,907.8V917.0M393.1,907.8h4M393.1,917.0h4M398.2,904.7V913.7M396.2,904.7h4M396.2,913.7h4M401.3,907.7V917.1M399.3,907.7h4M399.3,917.1h4M404.5,914.9V922.3M402.5,914.9h4M402.5,922.3h4M407.6,918.2V923.8M405.6,918.2h4M405.6,923.8h4M410.7,918.9V929.3M408.7,918.9h4M408.7,929.3h4" fill="none" stroke="#3f9442" stroke-width="1.15"/>
<path d="M313.5,885.7 L315.1,909.2 L316.6,920.2 L319.0,929.6 L321.3,935.9 L324.5,941.4 L327.6,944.5 L330.7,947.6 L333.9,948.4 L337.0,949.2 L340.2,950.0 L343.3,951.6 L346.4,950.8 L349.6,950.0 L353.5,948.4 L356.6,951.6 L360.5,950.0 L363.7,949.2 L366.8,948.4 L370.0,950.0 L373.1,946.9 L377.0,945.3 L380.2,939.8 L383.3,940.6 L386.4,935.9 L389.6,931.2 L392.7,932.7 L395.8,929.6 L399.0,931.2 L402.1,935.9 L405.3,937.5 L407.6,939.9 L410.5,946.3 L413.2,922.4 L416.4,904.8 L419.6,892.0 L422.8,888.0 L426.8,894.4 L430.0,885.6 L434.0,891.2 L437.2,888.8 L440.4,896.8 L443.6,888.8 L446.8,885.6 L450.0,908.0 L453.2,900.0 L457.2,908.0 L460.4,906.4 L463.6,919.2 L466.8,900.0 L470.7,904.8 L473.9,899.2 L477.1,900.8 L480.3,896.8 L484.3,900.0 L487.5,901.6 L490.7,898.4 L493.9,896.0 L497.1,896.0 L500.3,890.4 L503.5,885.6 L506.7,884.0 L509.9,880.8" fill="none" stroke="#e7403a" stroke-width="1.25" stroke-linejoin="round"/>
<path d="M313.5,879.4V892.0M311.5,879.4h4M311.5,892.0h4M315.1,904.1V914.3M313.1,904.1h4M313.1,914.3h4M316.6,914.6V925.8M314.6,914.6h4M314.6,925.8h4M319.0,926.2V933.0M317.0,926.2h4M317.0,933.0h4M321.3,931.5V940.3M319.3,931.5h4M319.3,940.3h4M324.5,934.9V947.9M322.5,934.9h4M322.5,947.9h4M327.6,941.3V947.7M325.6,941.3h4M325.6,947.7h4M330.7,942.6V952.6M328.7,942.6h4M328.7,952.6h4M333.9,944.8V952.0M331.9,944.8h4M331.9,952.0h4M337.0,943.5V954.9M335.0,943.5h4M335.0,954.9h4M340.2,944.3V955.7M338.2,944.3h4M338.2,955.7h4M343.3,947.4V955.8M341.3,947.4h4M341.3,955.8h4M346.4,944.1V957.5M344.4,944.1h4M344.4,957.5h4M349.6,946.4V953.6M347.6,946.4h4M347.6,953.6h4M353.5,942.2V954.6M351.5,942.2h4M351.5,954.6h4M356.6,946.2V957.0M354.6,946.2h4M354.6,957.0h4M360.5,943.7V956.3M358.5,943.7h4M358.5,956.3h4M363.7,942.1V956.3M361.7,942.1h4M361.7,956.3h4M366.8,942.0V954.8M364.8,942.0h4M364.8,954.8h4M370.0,943.5V956.5M368.0,943.5h4M368.0,956.5h4M373.1,942.5V951.3M371.1,942.5h4M371.1,951.3h4M377.0,937.9V952.7M375.0,937.9h4M375.0,952.7h4M380.2,934.7V944.9M378.2,934.7h4M378.2,944.9h4M383.3,934.2V947.0M381.3,934.2h4M381.3,947.0h4M386.4,928.9V942.9M384.4,928.9h4M384.4,942.9h4M389.6,927.1V935.3M387.6,927.1h4M387.6,935.3h4M392.7,926.3V939.1M390.7,926.3h4M390.7,939.1h4M395.8,922.8V936.4M393.8,922.8h4M393.8,936.4h4M399.0,926.2V936.2M397.0,926.2h4M397.0,936.2h4M402.1,931.4V940.4M400.1,931.4h4M400.1,940.4h4M405.3,930.5V944.5M403.3,930.5h4M403.3,944.5h4M407.6,933.5V946.3M405.6,933.5h4M405.6,946.3h4M410.5,940.1V952.5M408.5,940.1h4M408.5,952.5h4M413.2,915.6V929.2M411.2,915.6h4M411.2,929.2h4M416.4,899.5V910.1M414.4,899.5h4M414.4,910.1h4M419.6,885.6V898.4M417.6,885.6h4M417.6,898.4h4M422.8,880.6V895.4M420.8,880.6h4M420.8,895.4h4M426.8,888.5V900.3M424.8,888.5h4M424.8,900.3h4M430.0,879.3V891.9M428.0,879.3h4M428.0,891.9h4M434.0,885.6V896.8M432.0,885.6h4M432.0,896.8h4M437.2,882.8V894.8M435.2,882.8h4M435.2,894.8h4M440.4,888.7V904.9M438.4,888.7h4M438.4,904.9h4M443.6,882.7V894.9M441.6,882.7h4M441.6,894.9h4M446.8,880.4V890.8M444.8,880.4h4M444.8,890.8h4M450.0,900.7V915.3M448.0,900.7h4M448.0,915.3h4M453.2,893.0V907.0M451.2,893.0h4M451.2,907.0h4M457.2,898.2V917.8M455.2,898.2h4M455.2,917.8h4M460.4,898.6V914.2M458.4,898.6h4M458.4,914.2h4M463.6,910.3V928.1M461.6,910.3h4M461.6,928.1h4M466.8,891.6V908.4M464.8,891.6h4M464.8,908.4h4M470.7,898.9V910.7M468.7,898.9h4M468.7,910.7h4M473.9,890.8V907.6M471.9,890.8h4M471.9,907.6h4M477.1,895.8V905.8M475.1,895.8h4M475.1,905.8h4M480.3,891.6V902.0M478.3,891.6h4M478.3,902.0h4M484.3,895.5V904.5M482.3,895.5h4M482.3,904.5h4M487.5,896.5V906.7M485.5,896.5h4M485.5,906.7h4M490.7,892.5V904.3M488.7,892.5h4M488.7,904.3h4M493.9,889.1V902.9M491.9,889.1h4M491.9,902.9h4M497.1,887.3V904.7M495.1,887.3h4M495.1,904.7h4M500.3,881.3V899.5M498.3,881.3h4M498.3,899.5h4M503.5,878.2V893.0M501.5,878.2h4M501.5,893.0h4M506.7,877.6V890.4M504.7,877.6h4M504.7,890.4h4M509.9,872.5V889.1M507.9,872.5h4M507.9,889.1h4" fill="none" stroke="#e7403a" stroke-width="1.15"/>
<rect x="109.10" y="975.60" width="203.20" height="9.70" fill="#ffffff" stroke="#231f20" stroke-width="1.2"/>
<rect x="312.30" y="975.60" width="198.30" height="9.70" fill="#ffffff" stroke="#231f20" stroke-width="1.2"/>
<rect x="109.10" y="975.60" width="50.40" height="9.70" fill="#4b4c4e" stroke="#231f20" stroke-width="1.2"/>
<rect x="209.30" y="975.60" width="50.00" height="9.70" fill="#4b4c4e" stroke="#231f20" stroke-width="1.2"/>
<rect x="312.30" y="975.60" width="49.80" height="9.70" fill="#4b4c4e" stroke="#231f20" stroke-width="1.2"/>
<rect x="410.40" y="975.60" width="48.50" height="9.70" fill="#4b4c4e" stroke="#231f20" stroke-width="1.2"/>
<rect x="109.1" y="818.9" width="401.5" height="166.39999999999998" fill="none" stroke="#231f20" stroke-width="1.3"/>
<line x1="312.30" y1="818.90" x2="312.30" y2="985.30" stroke="#2f2f30" stroke-width="1.9" />
<line x1="105.70" y1="975.60" x2="109.10" y2="975.60" stroke="#231f20" stroke-width="1.2" />
<text transform="translate(104.5,979.15) scale(0.93,1)" font-size="10.3" fill="#231f20" text-anchor="end">0</text>
<line x1="105.70" y1="948.00" x2="109.10" y2="948.00" stroke="#231f20" stroke-width="1.2" />
<text transform="translate(104.5,951.55) scale(0.93,1)" font-size="10.3" fill="#231f20" text-anchor="end">500</text>
<line x1="105.70" y1="920.60" x2="109.10" y2="920.60" stroke="#231f20" stroke-width="1.2" />
<text transform="translate(104.5,924.15) scale(0.93,1)" font-size="10.3" fill="#231f20" text-anchor="end">1000</text>
<line x1="105.70" y1="893.20" x2="109.10" y2="893.20" stroke="#231f20" stroke-width="1.2" />
<text transform="translate(104.5,896.75) scale(0.93,1)" font-size="10.3" fill="#231f20" text-anchor="end">1500</text>
<line x1="105.70" y1="865.40" x2="109.10" y2="865.40" stroke="#231f20" stroke-width="1.2" />
<text transform="translate(104.5,868.9499999999999) scale(0.93,1)" font-size="10.3" fill="#231f20" text-anchor="end">2000</text>
<line x1="105.70" y1="838.00" x2="109.10" y2="838.00" stroke="#231f20" stroke-width="1.2" />
<text transform="translate(104.5,841.55) scale(0.93,1)" font-size="10.3" fill="#231f20" text-anchor="end">2500</text>
<text x="209.7" y="234.5" font-size="13.4" fill="#231f20" text-anchor="middle" textLength="49.7" lengthAdjust="spacingAndGlyphs">Diabetes</text>
<text x="406.0" y="234.3" font-size="13.4" fill="#231f20" text-anchor="middle" textLength="41.4" lengthAdjust="spacingAndGlyphs">Control</text>
<text x="203.5" y="434.8" font-size="13.4" fill="#231f20" text-anchor="middle" textLength="49.6" lengthAdjust="spacingAndGlyphs">Diabetes</text>
<text x="399.0" y="434.8" font-size="13.4" fill="#231f20" text-anchor="middle" textLength="40.7" lengthAdjust="spacingAndGlyphs">Control</text>
<text x="211.0" y="632.4" font-size="13.4" fill="#231f20" text-anchor="middle" textLength="49.8" lengthAdjust="spacingAndGlyphs">Diabetes</text>
<text x="406.8" y="632.9" font-size="13.4" fill="#231f20" text-anchor="middle" textLength="41.6" lengthAdjust="spacingAndGlyphs">Control</text>
<text x="211.9" y="831.4" font-size="13.4" fill="#231f20" text-anchor="middle" textLength="49.2" lengthAdjust="spacingAndGlyphs">Diabetes</text>
<text x="405.5" y="831.2" font-size="13.4" fill="#231f20" text-anchor="middle" textLength="41.1" lengthAdjust="spacingAndGlyphs">Control</text>
<text x="158.6" y="374.8" font-size="13" fill="#231f20" text-anchor="middle" textLength="28.6" lengthAdjust="spacingAndGlyphs">Feed</text>
<text x="259.9" y="374.8" font-size="13" fill="#231f20" text-anchor="middle" textLength="24.8" lengthAdjust="spacingAndGlyphs">Fast</text>
<text x="358.9" y="374.8" font-size="13" fill="#231f20" text-anchor="middle" textLength="28.6" lengthAdjust="spacingAndGlyphs">Feed</text>
<text x="460.7" y="374.8" font-size="13" fill="#231f20" text-anchor="middle" textLength="24.8" lengthAdjust="spacingAndGlyphs">Fast</text>
<text x="158.0" y="574.8" font-size="13" fill="#231f20" text-anchor="middle" textLength="28.6" lengthAdjust="spacingAndGlyphs">Feed</text>
<text x="259.0" y="574.7" font-size="13" fill="#231f20" text-anchor="middle" textLength="24.8" lengthAdjust="spacingAndGlyphs">Fast</text>
<text x="357.9" y="574.7" font-size="13" fill="#231f20" text-anchor="middle" textLength="28.6" lengthAdjust="spacingAndGlyphs">Feed</text>
<text x="458.9" y="574.7" font-size="13" fill="#231f20" text-anchor="middle" textLength="24.8" lengthAdjust="spacingAndGlyphs">Fast</text>
<text x="157.6" y="728.1" font-size="13" fill="#231f20" text-anchor="middle" textLength="28.6" lengthAdjust="spacingAndGlyphs">Feed</text>
<text x="257.7" y="730.6" font-size="13" fill="#231f20" text-anchor="middle" textLength="24.8" lengthAdjust="spacingAndGlyphs">Fast</text>
<text x="361.0" y="772.4" font-size="13" fill="#231f20" text-anchor="middle" textLength="28.6" lengthAdjust="spacingAndGlyphs">Feed</text>
<text x="461.7" y="772.4" font-size="13" fill="#231f20" text-anchor="middle" textLength="24.8" lengthAdjust="spacingAndGlyphs">Fast</text>
<text x="158.6" y="973.3" font-size="13" fill="#231f20" text-anchor="middle" textLength="28.6" lengthAdjust="spacingAndGlyphs">Feed</text>
<text x="257.6" y="974.3" font-size="13" fill="#231f20" text-anchor="middle" textLength="24.8" lengthAdjust="spacingAndGlyphs">Fast</text>
<text x="359.7" y="973.3" font-size="13" fill="#231f20" text-anchor="middle" textLength="28.6" lengthAdjust="spacingAndGlyphs">Feed</text>
<text x="460.0" y="973.3" font-size="13" fill="#231f20" text-anchor="middle" textLength="24.8" lengthAdjust="spacingAndGlyphs">Fast</text>
<text x="210.0" y="398.0" font-size="10" fill="#231f20" text-anchor="middle" textLength="90.5" lengthAdjust="spacingAndGlyphs">Time (2 x 24hr cycles )</text>
<text x="411.5" y="398.0" font-size="10" fill="#231f20" text-anchor="middle" textLength="90.5" lengthAdjust="spacingAndGlyphs">Time (2 x 24hr cycles )</text>
<text x="208.2" y="598.3" font-size="10" fill="#231f20" text-anchor="middle" textLength="90.5" lengthAdjust="spacingAndGlyphs">Time (2 x 24hr cycles )</text>
<text x="409.0" y="598.3" font-size="10" fill="#231f20" text-anchor="middle" textLength="90.5" lengthAdjust="spacingAndGlyphs">Time (2 x 24hr cycles )</text>
<text x="210.0" y="795.0" font-size="10" fill="#231f20" text-anchor="middle" textLength="90.5" lengthAdjust="spacingAndGlyphs">Time (2 x 24hr cycles )</text>
<text x="409.5" y="795.0" font-size="10" fill="#231f20" text-anchor="middle" textLength="90.5" lengthAdjust="spacingAndGlyphs">Time (2 x 24hr cycles )</text>
<text x="210.0" y="995.0" font-size="10" fill="#231f20" text-anchor="middle" textLength="90.5" lengthAdjust="spacingAndGlyphs">Time (2 x 24hr cycles )</text>
<text x="410.0" y="995.3" font-size="10" fill="#231f20" text-anchor="middle" textLength="90.5" lengthAdjust="spacingAndGlyphs">Time (2 x 24hr cycles )</text>
<line x1="113.80" y1="244.00" x2="126.00" y2="244.00" stroke="#3dbad6" stroke-width="1.7" />
<line x1="113.80" y1="252.90" x2="126.00" y2="252.90" stroke="#5a4db0" stroke-width="1.7" />
<text x="133.0" y="246.9" font-size="9.1" fill="#333">D-AL</text>
<text x="133.0" y="255.8" font-size="9.1" fill="#333">D-IF</text>
<line x1="466.80" y1="243.60" x2="479.00" y2="243.60" stroke="#3f9442" stroke-width="1.7" />
<line x1="466.80" y1="251.90" x2="479.00" y2="251.90" stroke="#e7403a" stroke-width="1.7" />
<text x="486.0" y="246.7" font-size="9.1" fill="#333">C-AL</text>
<text x="486.0" y="254.8" font-size="9.1" fill="#333">C-IF</text>
<line x1="111.30" y1="442.60" x2="124.00" y2="442.60" stroke="#3dbad6" stroke-width="1.7" />
<line x1="111.30" y1="453.10" x2="124.00" y2="453.10" stroke="#5a4db0" stroke-width="1.7" />
<text x="130.7" y="445.6" font-size="9.1" fill="#333">D-AL</text>
<text x="130.7" y="455.9" font-size="9.1" fill="#333">D-IF</text>
<line x1="461.80" y1="442.60" x2="474.00" y2="442.60" stroke="#3f9442" stroke-width="1.7" />
<line x1="461.80" y1="452.90" x2="474.00" y2="452.90" stroke="#e7403a" stroke-width="1.7" />
<text x="480.9" y="445.8" font-size="9.1" fill="#333">C-AL</text>
<text x="480.9" y="455.6" font-size="9.1" fill="#333">C-IF</text>
<line x1="116.30" y1="644.70" x2="128.60" y2="644.70" stroke="#3dbad6" stroke-width="1.7" />
<line x1="116.30" y1="655.30" x2="128.60" y2="655.30" stroke="#5a4db0" stroke-width="1.7" />
<text x="135.7" y="647.6" font-size="9.1" fill="#333">D-AL</text>
<text x="135.7" y="657.9" font-size="9.1" fill="#333">D-IF</text>
<line x1="468.70" y1="644.50" x2="481.00" y2="644.50" stroke="#3f9442" stroke-width="1.7" />
<line x1="468.70" y1="654.30" x2="481.00" y2="654.30" stroke="#e7403a" stroke-width="1.7" />
<text x="487.8" y="647.5" font-size="9.1" fill="#333">C-AL</text>
<text x="487.8" y="657.3" font-size="9.1" fill="#333">C-IF</text>
<line x1="117.00" y1="842.00" x2="129.40" y2="842.00" stroke="#3dbad6" stroke-width="1.7" />
<line x1="117.00" y1="850.50" x2="129.40" y2="850.50" stroke="#5a4db0" stroke-width="1.7" />
<text x="136.6" y="844.7" font-size="9.1" fill="#333">D-AL</text>
<text x="136.6" y="853.3" font-size="9.1" fill="#333">D-IF</text>
<line x1="466.00" y1="841.90" x2="478.20" y2="841.90" stroke="#3f9442" stroke-width="1.7" />
<line x1="466.00" y1="850.80" x2="478.20" y2="850.80" stroke="#e7403a" stroke-width="1.7" />
<text x="484.9" y="844.7" font-size="9.1" fill="#333">C-AL</text>
<text x="484.9" y="853.3" font-size="9.1" fill="#333">C-IF</text>
<text transform="translate(62.8,308.5) rotate(-90)" font-size="12" fill="#231f20" text-anchor="middle" textLength="74.4" lengthAdjust="spacingAndGlyphs">Energy expenditure</text>
<text transform="translate(76.3,307.8) rotate(-90)" font-size="11.5" fill="#231f20" text-anchor="middle" textLength="79" lengthAdjust="spacingAndGlyphs">(kcal/min per mouse)</text>
<text transform="translate(75.6,508.8) rotate(-90)" font-size="10.9" fill="#231f20" text-anchor="middle" textLength="108" lengthAdjust="spacingAndGlyphs">RER (VCO<tspan font-size="7.5" dy="2.2">2</tspan><tspan dy="-2.2">/VO</tspan><tspan font-size="7.5" dy="2.2">2</tspan><tspan dy="-2.2"> per mouse)</tspan></text>
<text transform="translate(58.8,696.2) rotate(-90)" font-size="10" fill="#231f20" text-anchor="middle" textLength="87" lengthAdjust="spacingAndGlyphs">carbohydrate utilization</text>
<text transform="translate(72.0,696.8) rotate(-90)" font-size="10" fill="#231f20" text-anchor="middle" textLength="78.3" lengthAdjust="spacingAndGlyphs">(mg/min per mouse])</text>
<text transform="translate(58.6,906.0) rotate(-90)" font-size="10" fill="#231f20" text-anchor="middle" textLength="52.7" lengthAdjust="spacingAndGlyphs">lipid utilization</text>
<text transform="translate(72.7,905.5) rotate(-90)" font-size="10" fill="#231f20" text-anchor="middle" textLength="74.9" lengthAdjust="spacingAndGlyphs">(mg/min per mouse)</text>
<text x="519.3" y="249.1" font-size="11" fill="#231f20" font-weight="bold" textLength="72.3" lengthAdjust="spacingAndGlyphs">D-IF vs D-AL&#160; (*)</text>
<text x="519.3" y="263.6" font-size="11" fill="#231f20" textLength="44.8" lengthAdjust="spacingAndGlyphs"><tspan font-style="italic">p</tspan> = 0.0095</text>
<text x="519.3" y="278.4" font-size="11" fill="#231f20" textLength="90.2" lengthAdjust="spacingAndGlyphs">SE = 212.15 (67.028)</text>
<text x="519.3" y="308.0" font-size="11" fill="#231f20" font-weight="bold" textLength="81.5" lengthAdjust="spacingAndGlyphs">C-IF vs C-AL&#160; (NS)</text>
<text x="519.7" y="444.6" font-size="11" fill="#231f20" font-weight="bold" textLength="72.5" lengthAdjust="spacingAndGlyphs">D-IF vs D-AL&#160; (*)</text>
<text x="519.7" y="458.8" font-size="11" fill="#231f20" textLength="44.7" lengthAdjust="spacingAndGlyphs"><tspan font-style="italic">p</tspan> &lt; 0.0001</text>
<text x="519.7" y="473.6" font-size="11" fill="#231f20" textLength="79.1" lengthAdjust="spacingAndGlyphs">SE = 0.110 (0.110)</text>
<text x="519.7" y="503.6" font-size="11" fill="#231f20" font-weight="bold" textLength="72.5" lengthAdjust="spacingAndGlyphs">C-IF vs C-AL&#160; (*)</text>
<text x="519.7" y="517.9" font-size="11" fill="#231f20" textLength="45.5" lengthAdjust="spacingAndGlyphs"><tspan font-style="italic">p</tspan> = 0.0126</text>
<text x="519.7" y="532.6" font-size="11" fill="#231f20" textLength="80.6" lengthAdjust="spacingAndGlyphs">SE = 0.041 (0.013)</text>
<text x="519.7" y="653.0" font-size="11" fill="#231f20" font-weight="bold" textLength="72.5" lengthAdjust="spacingAndGlyphs">D-IF vs D-AL&#160; (*)</text>
<text x="519.7" y="667.0" font-size="11" fill="#231f20" textLength="44.7" lengthAdjust="spacingAndGlyphs"><tspan font-style="italic">p</tspan> &lt; 0.0001</text>
<text x="519.7" y="681.3" font-size="11" fill="#231f20" textLength="95.9" lengthAdjust="spacingAndGlyphs">SE = 1425.35 (258.17)</text>
<text x="519.7" y="711.3" font-size="11" fill="#231f20" font-weight="bold" textLength="72.5" lengthAdjust="spacingAndGlyphs">C-IF vs C-AL&#160; (*)</text>
<text x="519.7" y="725.6" font-size="11" fill="#231f20" textLength="45.5" lengthAdjust="spacingAndGlyphs"><tspan font-style="italic">p</tspan> = 0.0100</text>
<text x="519.7" y="739.8" font-size="11" fill="#231f20" textLength="90.5" lengthAdjust="spacingAndGlyphs">SE = 591.55 (187.89)</text>
<text x="520.8" y="844.5" font-size="11" fill="#231f20" font-weight="bold" textLength="81.2" lengthAdjust="spacingAndGlyphs">D-IF vs D-AL&#160; (NS)</text>
<text x="520.8" y="874.0" font-size="11" fill="#231f20" font-weight="bold" textLength="81.2" lengthAdjust="spacingAndGlyphs">C-IF vs C-AL&#160; (NS)</text>
</svg>
</body></html>
